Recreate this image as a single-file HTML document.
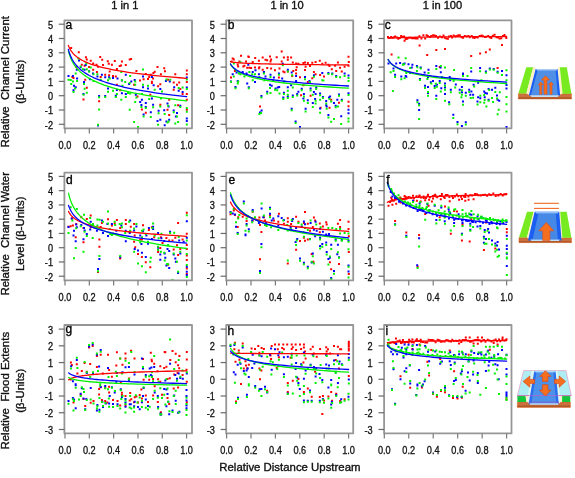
<!DOCTYPE html>
<html><head><meta charset="utf-8"><style>
html,body{margin:0;padding:0;background:#fff;width:575px;height:478px;overflow:hidden}
svg text{font-family:"Liberation Sans",sans-serif}
.tk{font-size:10px;fill:#111;stroke:#111;stroke-width:0.3px}
.lt{font-size:12px;fill:#000;stroke:#000;stroke-width:0.35px}
.lb{fill:#111;stroke:#111;stroke-width:0.35px}
</style></head><body>
<svg width="575" height="478" viewBox="0 0 575 478" style="position:absolute;left:0;top:0;filter:blur(0.35px)">
<rect width="575" height="478" fill="#fff"/>
<text x="111.3" y="9.3" class="lb" font-size="11.1">1 in 1</text>
<text x="270.4" y="9.3" class="lb" font-size="11.1">1 in 10</text>
<text x="422.7" y="9.3" class="lb" font-size="11.1">1 in 100</text>
<path d="M70.2,47.0h2v2h-2zM77.8,51.3h2v2h-2zM84.9,56.2h2v2h-2zM85.8,58.5h2v2h-2zM89.7,59.8h2v2h-2zM99.2,55.9h2v2h-2zM101.2,58.8h2v2h-2zM106.8,60.2h2v2h-2zM113.8,60.1h2v2h-2zM120.9,60.6h2v2h-2zM124.8,64.1h2v2h-2zM92.2,62.4h2v2h-2zM95.5,63.7h2v2h-2zM97.0,65.7h2v2h-2zM102.0,63.9h2v2h-2zM107.8,62.8h2v2h-2zM110.9,63.7h2v2h-2zM120.0,64.4h2v2h-2zM118.7,65.1h2v2h-2zM80.8,63.7h2v2h-2zM83.6,64.8h2v2h-2zM88.1,66.0h2v2h-2zM75.2,66.0h2v2h-2zM92.2,68.7h2v2h-2zM95.9,71.0h2v2h-2zM108.7,70.4h2v2h-2zM104.2,73.7h2v2h-2zM108.1,74.3h2v2h-2zM112.0,75.1h2v2h-2zM114.8,75.4h2v2h-2zM99.7,76.0h2v2h-2zM72.5,77.1h2v2h-2zM71.4,76.0h2v2h-2zM84.2,78.8h2v2h-2zM115.9,68.0h2v2h-2zM85.8,86.7h2v2h-2zM82.5,98.5h2v2h-2zM98.1,100.2h2v2h-2zM115.9,83.7h2v2h-2zM119.2,89.2h2v2h-2zM128.7,58.4h2v2h-2zM130.1,57.9h2v2h-2zM135.4,70.1h2v2h-2zM156.5,66.0h2v2h-2zM163.2,67.3h2v2h-2zM164.0,70.2h2v2h-2zM153.7,70.7h2v2h-2zM152.4,72.1h2v2h-2zM159.9,73.2h2v2h-2zM174.3,73.2h2v2h-2zM185.8,69.5h2v2h-2zM185.8,73.2h2v2h-2zM144.8,72.9h2v2h-2zM148.2,76.0h2v2h-2zM149.8,73.7h2v2h-2zM142.6,78.2h2v2h-2zM139.0,79.5h2v2h-2zM147.0,78.0h2v2h-2zM150.9,80.7h2v2h-2zM152.1,77.6h2v2h-2zM167.1,78.8h2v2h-2zM172.7,81.5h2v2h-2zM178.2,81.5h2v2h-2zM185.8,81.0h2v2h-2zM133.1,83.7h2v2h-2zM150.9,82.0h2v2h-2zM157.1,85.3h2v2h-2zM159.3,83.3h2v2h-2zM172.7,88.7h2v2h-2zM176.0,83.7h2v2h-2zM179.3,88.1h2v2h-2zM181.6,93.1h2v2h-2zM185.8,93.1h2v2h-2zM185.8,98.7h2v2h-2zM136.5,95.4h2v2h-2zM149.3,93.7h2v2h-2zM168.2,98.7h2v2h-2zM159.3,103.7h2v2h-2zM140.9,108.5h2v2h-2zM144.8,111.8h2v2h-2zM166.5,108.7h2v2h-2zM168.2,114.1h2v2h-2zM177.1,104.3h2v2h-2zM185.8,108.7h2v2h-2z" fill="#ff0000"/>
<path d="M78.0,59.5h2v2h-2zM67.5,74.9h2v2h-2zM71.9,74.9h2v2h-2zM79.7,66.2h2v2h-2zM84.7,64.1h2v2h-2zM75.8,68.7h2v2h-2zM83.6,68.7h2v2h-2zM88.1,70.2h2v2h-2zM92.0,72.6h2v2h-2zM96.4,75.4h2v2h-2zM100.9,73.7h2v2h-2zM104.2,76.2h2v2h-2zM108.1,76.2h2v2h-2zM112.0,77.1h2v2h-2zM116.5,77.6h2v2h-2zM120.9,79.5h2v2h-2zM124.8,73.7h2v2h-2zM76.1,77.6h2v2h-2zM88.9,78.2h2v2h-2zM83.0,81.0h2v2h-2zM73.0,84.8h2v2h-2zM74.7,86.2h2v2h-2zM72.5,89.2h2v2h-2zM82.5,92.9h2v2h-2zM98.1,95.1h2v2h-2zM104.2,95.1h2v2h-2zM107.0,87.6h2v2h-2zM114.8,94.8h2v2h-2zM115.9,88.9h2v2h-2zM120.9,92.2h2v2h-2zM124.8,93.1h2v2h-2zM97.0,124.5h2v2h-2zM142.0,75.4h2v2h-2zM150.9,76.0h2v2h-2zM130.3,80.4h2v2h-2zM133.7,79.1h2v2h-2zM164.9,79.9h2v2h-2zM168.8,80.4h2v2h-2zM185.8,76.5h2v2h-2zM128.1,83.1h2v2h-2zM152.6,84.2h2v2h-2zM142.0,86.2h2v2h-2zM147.0,87.6h2v2h-2zM159.3,88.1h2v2h-2zM173.2,86.2h2v2h-2zM177.7,89.8h2v2h-2zM181.6,90.9h2v2h-2zM185.8,86.5h2v2h-2zM134.8,93.7h2v2h-2zM150.9,97.6h2v2h-2zM140.9,98.7h2v2h-2zM139.2,100.9h2v2h-2zM144.8,102.0h2v2h-2zM152.1,103.7h2v2h-2zM166.5,102.6h2v2h-2zM167.6,105.4h2v2h-2zM144.8,105.9h2v2h-2zM140.4,104.0h2v2h-2zM157.6,109.8h2v2h-2zM163.2,109.3h2v2h-2zM149.8,111.2h2v2h-2zM172.7,109.6h2v2h-2zM176.0,112.1h2v2h-2zM142.6,113.4h2v2h-2zM174.9,115.4h2v2h-2zM168.2,118.7h2v2h-2zM165.4,120.4h2v2h-2zM159.3,118.7h2v2h-2zM156.5,119.9h2v2h-2zM163.7,124.3h2v2h-2zM185.8,117.6h2v2h-2zM185.8,119.9h2v2h-2zM179.3,104.8h2v2h-2z" fill="#0000ff"/>
<path d="M77.5,57.6h2v2h-2zM85.3,62.4h2v2h-2zM89.7,66.5h2v2h-2zM74.7,72.4h2v2h-2zM69.7,79.1h2v2h-2zM71.9,80.4h2v2h-2zM67.5,78.8h2v2h-2zM76.1,79.9h2v2h-2zM85.8,68.2h2v2h-2zM88.1,70.4h2v2h-2zM92.5,73.2h2v2h-2zM96.4,73.2h2v2h-2zM99.7,78.8h2v2h-2zM107.0,79.3h2v2h-2zM120.3,71.0h2v2h-2zM120.9,79.3h2v2h-2zM108.7,77.6h2v2h-2zM79.7,65.4h2v2h-2zM81.9,68.2h2v2h-2zM92.5,79.9h2v2h-2zM124.2,81.0h2v2h-2zM70.2,83.1h2v2h-2zM83.0,83.1h2v2h-2zM74.1,87.6h2v2h-2zM72.5,90.9h2v2h-2zM83.6,87.8h2v2h-2zM85.8,91.8h2v2h-2zM82.5,93.7h2v2h-2zM98.1,96.3h2v2h-2zM104.2,95.9h2v2h-2zM98.1,108.5h2v2h-2zM107.0,90.7h2v2h-2zM112.0,89.8h2v2h-2zM114.8,95.9h2v2h-2zM115.9,92.9h2v2h-2zM120.3,98.7h2v2h-2zM124.8,95.9h2v2h-2zM97.0,123.8h2v2h-2zM121.5,84.8h2v2h-2zM142.0,68.4h2v2h-2zM129.2,74.9h2v2h-2zM165.4,78.4h2v2h-2zM169.3,78.8h2v2h-2zM185.8,78.4h2v2h-2zM134.2,80.4h2v2h-2zM128.7,82.0h2v2h-2zM134.2,83.7h2v2h-2zM142.0,83.7h2v2h-2zM147.0,84.8h2v2h-2zM153.7,88.7h2v2h-2zM161.0,90.4h2v2h-2zM177.7,87.0h2v2h-2zM181.6,86.5h2v2h-2zM185.8,88.1h2v2h-2zM127.0,92.0h2v2h-2zM129.2,92.6h2v2h-2zM135.4,96.5h2v2h-2zM140.9,92.9h2v2h-2zM148.2,98.1h2v2h-2zM159.9,97.6h2v2h-2zM134.2,100.9h2v2h-2zM140.4,105.9h2v2h-2zM144.8,107.1h2v2h-2zM152.1,106.3h2v2h-2zM159.3,105.6h2v2h-2zM167.1,104.8h2v2h-2zM174.3,104.3h2v2h-2zM179.3,105.9h2v2h-2zM128.7,108.7h2v2h-2zM157.6,112.3h2v2h-2zM163.7,113.0h2v2h-2zM172.7,111.2h2v2h-2zM142.6,115.4h2v2h-2zM149.8,116.0h2v2h-2zM176.0,115.4h2v2h-2zM166.5,121.5h2v2h-2zM167.6,120.4h2v2h-2zM157.1,123.8h2v2h-2zM133.1,121.0h2v2h-2zM137.0,126.0h2v2h-2zM177.1,121.0h2v2h-2zM185.8,107.1h2v2h-2zM185.8,110.7h2v2h-2zM185.8,123.4h2v2h-2zM174.3,122.6h2v2h-2z" fill="#00f000"/>
<path d="M68.40,45.40 L68.61,45.95 L68.84,46.50 L69.07,47.05 L69.32,47.60 L69.59,48.15 L69.87,48.69 L70.17,49.24 L70.48,49.79 L70.82,50.34 L71.18,50.89 L71.56,51.44 L71.96,51.98 L72.39,52.53 L72.84,53.08 L73.32,53.63 L73.83,54.18 L74.38,54.73 L74.95,55.27 L75.56,55.82 L76.21,56.37 L76.90,56.92 L77.63,57.47 L78.41,58.01 L79.23,58.56 L80.10,59.11 L81.03,59.66 L82.02,60.21 L83.06,60.76 L84.17,61.30 L85.35,61.85 L86.60,62.40 L87.92,62.95 L89.33,63.50 L90.82,64.05 L92.41,64.59 L94.09,65.14 L95.88,65.69 L97.78,66.24 L99.79,66.79 L101.92,67.33 L104.19,67.88 L106.60,68.43 L109.15,68.98 L111.86,69.53 L114.74,70.08 L117.80,70.62 L121.04,71.17 L124.48,71.72 L128.13,72.27 L132.01,72.82 L136.12,73.37 L140.49,73.91 L145.13,74.46 L150.05,75.01 L155.27,75.56 L160.81,76.11 L166.69,76.66 L172.94,77.20 L179.57,77.75 L186.60,78.30" fill="none" stroke="#ff0000" stroke-width="1.3" stroke-linecap="round"/>
<path d="M68.40,50.84 L68.61,51.68 L68.84,52.51 L69.07,53.35 L69.32,54.18 L69.59,55.01 L69.87,55.85 L70.17,56.68 L70.48,57.52 L70.82,58.35 L71.18,59.19 L71.56,60.02 L71.96,60.85 L72.39,61.69 L72.84,62.52 L73.32,63.36 L73.83,64.19 L74.38,65.03 L74.95,65.86 L75.56,66.69 L76.21,67.53 L76.90,68.36 L77.63,69.20 L78.41,70.03 L79.23,70.87 L80.10,71.70 L81.03,72.53 L82.02,73.37 L83.06,74.20 L84.17,75.04 L85.35,75.87 L86.60,76.71 L87.92,77.54 L89.33,78.37 L90.82,79.21 L92.41,80.04 L94.09,80.88 L95.88,81.71 L97.78,82.55 L99.79,83.38 L101.92,84.21 L104.19,85.05 L106.60,85.88 L109.15,86.72 L111.86,87.55 L114.74,88.39 L117.80,89.22 L121.04,90.05 L124.48,90.89 L128.13,91.72 L132.01,92.56 L136.12,93.39 L140.49,94.23 L145.13,95.06 L150.05,95.89 L155.27,96.73 L160.81,97.56 L166.69,98.40 L172.94,99.23 L179.57,100.07 L186.60,100.90" fill="none" stroke="#00f000" stroke-width="1.3" stroke-linecap="round"/>
<path d="M68.40,49.50 L68.61,50.29 L68.84,51.08 L69.07,51.86 L69.32,52.65 L69.59,53.44 L69.87,54.22 L70.17,55.01 L70.48,55.80 L70.82,56.58 L71.18,57.37 L71.56,58.16 L71.96,58.94 L72.39,59.73 L72.84,60.52 L73.32,61.30 L73.83,62.09 L74.38,62.88 L74.95,63.66 L75.56,64.45 L76.21,65.24 L76.90,66.02 L77.63,66.81 L78.41,67.60 L79.23,68.38 L80.10,69.17 L81.03,69.95 L82.02,70.74 L83.06,71.53 L84.17,72.31 L85.35,73.10 L86.60,73.89 L87.92,74.67 L89.33,75.46 L90.82,76.25 L92.41,77.03 L94.09,77.82 L95.88,78.61 L97.78,79.39 L99.79,80.18 L101.92,80.97 L104.19,81.75 L106.60,82.54 L109.15,83.33 L111.86,84.11 L114.74,84.90 L117.80,85.69 L121.04,86.47 L124.48,87.26 L128.13,88.05 L132.01,88.83 L136.12,89.62 L140.49,90.41 L145.13,91.19 L150.05,91.98 L155.27,92.77 L160.81,93.55 L166.69,94.34 L172.94,95.13 L179.57,95.91 L186.60,96.70" fill="none" stroke="#0000ff" stroke-width="1.3" stroke-linecap="round"/>
<path d="M64.4,20.3H192.0V128.3H64.4Z" fill="none" stroke="#969696" stroke-width="1.8" stroke-linejoin="round"/>
<line x1="58.800000000000004" y1="124.30" x2="64.4" y2="124.30" stroke="#6a6a6a" stroke-width="1.2"/>
<text transform="translate(53.00,128.70) scale(0.92,1)" class="tk" text-anchor="end">-2</text>
<line x1="58.800000000000004" y1="110.00" x2="64.4" y2="110.00" stroke="#6a6a6a" stroke-width="1.2"/>
<text transform="translate(53.00,114.40) scale(0.92,1)" class="tk" text-anchor="end">-1</text>
<line x1="58.800000000000004" y1="95.70" x2="64.4" y2="95.70" stroke="#6a6a6a" stroke-width="1.2"/>
<text transform="translate(53.00,100.10) scale(0.92,1)" class="tk" text-anchor="end">0</text>
<line x1="58.800000000000004" y1="81.40" x2="64.4" y2="81.40" stroke="#6a6a6a" stroke-width="1.2"/>
<text transform="translate(53.00,85.80) scale(0.92,1)" class="tk" text-anchor="end">1</text>
<line x1="58.800000000000004" y1="67.10" x2="64.4" y2="67.10" stroke="#6a6a6a" stroke-width="1.2"/>
<text transform="translate(53.00,71.50) scale(0.92,1)" class="tk" text-anchor="end">2</text>
<line x1="58.800000000000004" y1="52.80" x2="64.4" y2="52.80" stroke="#6a6a6a" stroke-width="1.2"/>
<text transform="translate(53.00,57.20) scale(0.92,1)" class="tk" text-anchor="end">3</text>
<line x1="58.800000000000004" y1="38.50" x2="64.4" y2="38.50" stroke="#6a6a6a" stroke-width="1.2"/>
<text transform="translate(53.00,42.90) scale(0.92,1)" class="tk" text-anchor="end">4</text>
<line x1="58.800000000000004" y1="24.20" x2="64.4" y2="24.20" stroke="#6a6a6a" stroke-width="1.2"/>
<text transform="translate(53.00,28.60) scale(0.92,1)" class="tk" text-anchor="end">5</text>
<line x1="65.00" y1="128.3" x2="65.00" y2="133.5" stroke="#7a7a7a" stroke-width="1.2"/>
<text transform="translate(65.00,148.70) scale(0.92,1)" class="tk" text-anchor="middle">0.0</text>
<line x1="89.32" y1="128.3" x2="89.32" y2="133.5" stroke="#7a7a7a" stroke-width="1.2"/>
<text transform="translate(89.32,148.70) scale(0.92,1)" class="tk" text-anchor="middle">0.2</text>
<line x1="113.64" y1="128.3" x2="113.64" y2="133.5" stroke="#7a7a7a" stroke-width="1.2"/>
<text transform="translate(113.64,148.70) scale(0.92,1)" class="tk" text-anchor="middle">0.4</text>
<line x1="137.96" y1="128.3" x2="137.96" y2="133.5" stroke="#7a7a7a" stroke-width="1.2"/>
<text transform="translate(137.96,148.70) scale(0.92,1)" class="tk" text-anchor="middle">0.6</text>
<line x1="162.28" y1="128.3" x2="162.28" y2="133.5" stroke="#7a7a7a" stroke-width="1.2"/>
<text transform="translate(162.28,148.70) scale(0.92,1)" class="tk" text-anchor="middle">0.8</text>
<line x1="186.60" y1="128.3" x2="186.60" y2="133.5" stroke="#7a7a7a" stroke-width="1.2"/>
<text transform="translate(186.60,148.70) scale(0.92,1)" class="tk" text-anchor="middle">1.0</text>
<text x="65.4" y="28.7" class="lt">a</text>
<path d="M231.7,57.6h2v2h-2zM232.8,58.4h2v2h-2zM230.6,60.4h2v2h-2zM240.0,54.8h2v2h-2zM247.8,55.9h2v2h-2zM247.3,55.4h2v2h-2zM254.2,57.0h2v2h-2zM261.7,56.5h2v2h-2zM264.5,58.7h2v2h-2zM266.2,59.3h2v2h-2zM269.0,55.4h2v2h-2zM270.1,58.4h2v2h-2zM269.5,60.4h2v2h-2zM275.7,56.2h2v2h-2zM280.7,50.4h2v2h-2zM282.9,56.5h2v2h-2zM286.8,56.2h2v2h-2zM286.8,58.7h2v2h-2zM280.7,60.4h2v2h-2zM238.4,60.4h2v2h-2zM245.0,60.4h2v2h-2zM251.7,60.9h2v2h-2zM257.9,59.8h2v2h-2zM236.7,63.5h2v2h-2zM237.2,65.4h2v2h-2zM242.3,65.4h2v2h-2zM243.4,64.8h2v2h-2zM246.2,66.8h2v2h-2zM248.4,66.8h2v2h-2zM250.1,67.1h2v2h-2zM254.0,66.5h2v2h-2zM258.4,66.2h2v2h-2zM257.9,67.3h2v2h-2zM261.7,68.7h2v2h-2zM266.2,67.1h2v2h-2zM270.1,67.6h2v2h-2zM274.0,69.3h2v2h-2zM278.5,67.6h2v2h-2zM282.3,70.4h2v2h-2zM286.8,70.4h2v2h-2zM233.9,69.9h2v2h-2zM230.0,76.5h2v2h-2zM262.9,71.0h2v2h-2zM277.9,76.5h2v2h-2zM283.5,71.3h2v2h-2zM259.0,105.6h2v2h-2zM290.1,56.5h2v2h-2zM291.8,61.5h2v2h-2zM295.1,62.4h2v2h-2zM297.4,62.8h2v2h-2zM302.4,62.1h2v2h-2zM304.0,61.5h2v2h-2zM306.8,62.1h2v2h-2zM311.3,61.7h2v2h-2zM314.6,60.9h2v2h-2zM318.8,59.8h2v2h-2zM321.3,62.8h2v2h-2zM324.6,61.7h2v2h-2zM327.4,63.7h2v2h-2zM328.5,65.1h2v2h-2zM334.1,64.8h2v2h-2zM336.9,61.5h2v2h-2zM339.1,66.8h2v2h-2zM343.6,65.7h2v2h-2zM347.5,55.7h2v2h-2zM347.8,60.9h2v2h-2zM347.5,64.8h2v2h-2zM295.7,66.2h2v2h-2zM304.6,65.7h2v2h-2zM309.0,65.1h2v2h-2zM295.1,69.1h2v2h-2zM292.3,69.9h2v2h-2zM304.0,69.1h2v2h-2zM330.8,68.2h2v2h-2zM335.2,69.9h2v2h-2zM340.8,70.4h2v2h-2zM312.9,71.0h2v2h-2zM314.6,73.2h2v2h-2zM319.1,74.0h2v2h-2zM323.0,75.4h2v2h-2zM299.0,76.2h2v2h-2zM311.3,77.3h2v2h-2zM295.1,72.4h2v2h-2zM291.2,74.9h2v2h-2zM306.8,81.0h2v2h-2zM300.1,94.2h2v2h-2zM309.6,94.8h2v2h-2zM319.6,106.7h2v2h-2zM328.5,106.7h2v2h-2zM330.2,98.7h2v2h-2zM338.0,101.8h2v2h-2zM347.5,100.7h2v2h-2zM347.5,105.2h2v2h-2zM302.4,84.2h2v2h-2z" fill="#ff0000"/>
<path d="M247.3,63.7h2v2h-2zM281.8,62.8h2v2h-2zM231.7,73.2h2v2h-2zM235.6,71.5h2v2h-2zM241.7,71.0h2v2h-2zM245.6,72.6h2v2h-2zM251.7,71.0h2v2h-2zM254.5,69.3h2v2h-2zM257.9,73.2h2v2h-2zM262.9,71.0h2v2h-2zM264.5,75.4h2v2h-2zM269.5,73.7h2v2h-2zM277.9,72.6h2v2h-2zM272.9,76.5h2v2h-2zM281.2,77.6h2v2h-2zM286.8,68.7h2v2h-2zM230.0,80.4h2v2h-2zM236.7,79.9h2v2h-2zM254.0,81.0h2v2h-2zM234.5,85.9h2v2h-2zM247.8,86.2h2v2h-2zM246.2,82.6h2v2h-2zM269.0,83.7h2v2h-2zM270.7,84.8h2v2h-2zM274.6,87.6h2v2h-2zM276.8,86.5h2v2h-2zM278.2,85.9h2v2h-2zM286.8,86.2h2v2h-2zM266.2,90.7h2v2h-2zM282.9,91.8h2v2h-2zM260.4,95.1h2v2h-2zM282.3,96.5h2v2h-2zM286.8,95.6h2v2h-2zM260.6,109.6h2v2h-2zM259.0,111.5h2v2h-2zM290.7,71.5h2v2h-2zM295.1,74.9h2v2h-2zM304.0,76.0h2v2h-2zM312.9,74.3h2v2h-2zM321.3,72.1h2v2h-2zM327.4,72.1h2v2h-2zM331.3,72.4h2v2h-2zM335.2,74.9h2v2h-2zM343.6,72.4h2v2h-2zM347.5,74.6h2v2h-2zM295.1,79.9h2v2h-2zM308.5,79.9h2v2h-2zM290.1,84.2h2v2h-2zM300.7,87.8h2v2h-2zM297.4,90.7h2v2h-2zM296.2,93.1h2v2h-2zM291.8,94.5h2v2h-2zM302.9,93.1h2v2h-2zM302.4,97.6h2v2h-2zM309.6,87.6h2v2h-2zM312.9,90.9h2v2h-2zM315.2,86.5h2v2h-2zM314.6,93.1h2v2h-2zM319.1,92.6h2v2h-2zM321.9,95.9h2v2h-2zM314.1,98.1h2v2h-2zM306.8,99.3h2v2h-2zM311.8,102.0h2v2h-2zM325.2,100.0h2v2h-2zM328.0,96.5h2v2h-2zM329.1,95.6h2v2h-2zM336.3,98.7h2v2h-2zM333.0,102.0h2v2h-2zM325.2,104.3h2v2h-2zM325.7,105.4h2v2h-2zM334.7,104.8h2v2h-2zM340.8,98.7h2v2h-2zM338.0,93.4h2v2h-2zM347.5,92.2h2v2h-2zM319.1,107.4h2v2h-2zM290.7,107.8h2v2h-2zM304.6,107.8h2v2h-2zM327.4,114.1h2v2h-2zM340.2,115.2h2v2h-2zM294.6,120.4h2v2h-2zM347.5,108.7h2v2h-2zM347.5,112.3h2v2h-2zM299.0,126.0h2v2h-2z" fill="#0000ff"/>
<path d="M239.5,61.3h2v2h-2zM232.8,62.4h2v2h-2zM281.8,64.3h2v2h-2zM232.8,75.4h2v2h-2zM237.8,72.6h2v2h-2zM239.5,73.2h2v2h-2zM243.4,75.4h2v2h-2zM248.4,71.0h2v2h-2zM251.2,73.2h2v2h-2zM254.0,73.2h2v2h-2zM258.4,76.0h2v2h-2zM262.9,72.6h2v2h-2zM269.5,76.0h2v2h-2zM277.9,73.7h2v2h-2zM263.4,79.3h2v2h-2zM286.8,70.4h2v2h-2zM230.0,80.7h2v2h-2zM237.2,80.4h2v2h-2zM282.9,80.4h2v2h-2zM272.3,79.9h2v2h-2zM251.7,79.3h2v2h-2zM236.7,82.6h2v2h-2zM234.5,87.3h2v2h-2zM247.8,87.3h2v2h-2zM269.0,87.0h2v2h-2zM269.5,92.0h2v2h-2zM266.2,92.6h2v2h-2zM274.0,88.7h2v2h-2zM276.2,89.2h2v2h-2zM278.5,92.6h2v2h-2zM286.8,89.8h2v2h-2zM286.8,93.7h2v2h-2zM282.9,93.1h2v2h-2zM260.4,96.5h2v2h-2zM282.3,98.1h2v2h-2zM286.8,97.0h2v2h-2zM258.4,113.0h2v2h-2zM260.1,112.1h2v2h-2zM291.2,74.3h2v2h-2zM304.0,78.2h2v2h-2zM312.9,75.8h2v2h-2zM327.4,72.9h2v2h-2zM331.1,73.2h2v2h-2zM335.2,76.0h2v2h-2zM339.1,76.2h2v2h-2zM343.6,74.9h2v2h-2zM347.5,77.1h2v2h-2zM347.5,79.9h2v2h-2zM321.3,79.3h2v2h-2zM322.4,79.5h2v2h-2zM309.0,81.0h2v2h-2zM291.8,86.5h2v2h-2zM291.8,95.9h2v2h-2zM296.2,94.5h2v2h-2zM300.7,89.2h2v2h-2zM302.9,95.4h2v2h-2zM302.9,99.8h2v2h-2zM306.8,102.0h2v2h-2zM309.6,89.6h2v2h-2zM311.8,93.7h2v2h-2zM315.2,88.1h2v2h-2zM314.6,99.8h2v2h-2zM314.6,102.6h2v2h-2zM319.1,94.2h2v2h-2zM319.1,98.7h2v2h-2zM321.9,97.0h2v2h-2zM325.2,102.6h2v2h-2zM325.7,107.8h2v2h-2zM328.5,98.1h2v2h-2zM330.2,100.4h2v2h-2zM334.7,106.3h2v2h-2zM336.9,105.4h2v2h-2zM338.0,94.8h2v2h-2zM340.8,99.8h2v2h-2zM347.5,94.0h2v2h-2zM347.5,117.6h2v2h-2zM347.5,120.4h2v2h-2zM327.4,116.5h2v2h-2zM333.0,117.9h2v2h-2zM330.2,120.8h2v2h-2zM340.2,123.0h2v2h-2zM294.6,122.1h2v2h-2zM304.6,110.4h2v2h-2zM290.7,109.3h2v2h-2zM319.1,111.8h2v2h-2zM311.8,105.9h2v2h-2z" fill="#00f000"/>
<path d="M230.50,61.70 L230.73,61.75 L230.98,61.81 L231.24,61.86 L231.51,61.92 L231.80,61.97 L232.11,62.03 L232.43,62.08 L232.78,62.14 L233.14,62.19 L233.53,62.25 L233.94,62.30 L234.37,62.36 L234.83,62.41 L235.32,62.47 L235.83,62.52 L236.38,62.58 L236.95,62.63 L237.56,62.69 L238.21,62.74 L238.90,62.80 L239.62,62.85 L240.39,62.91 L241.21,62.96 L242.07,63.02 L242.98,63.07 L243.95,63.13 L244.97,63.18 L246.06,63.24 L247.21,63.29 L248.42,63.35 L249.71,63.40 L251.08,63.46 L252.52,63.51 L254.05,63.57 L255.67,63.62 L257.39,63.68 L259.21,63.73 L261.13,63.79 L263.17,63.84 L265.33,63.90 L267.62,63.95 L270.04,64.01 L272.61,64.06 L275.32,64.12 L278.20,64.17 L281.25,64.23 L284.47,64.28 L287.89,64.34 L291.51,64.39 L295.34,64.45 L299.40,64.50 L303.70,64.56 L308.25,64.61 L313.07,64.67 L318.18,64.72 L323.58,64.78 L329.31,64.83 L335.38,64.89 L341.80,64.94 L348.60,65.00" fill="none" stroke="#ff0000" stroke-width="1.3" stroke-linecap="round"/>
<path d="M230.50,64.11 L230.73,64.51 L230.98,64.91 L231.24,65.31 L231.51,65.71 L231.80,66.11 L232.11,66.52 L232.43,66.92 L232.78,67.32 L233.14,67.72 L233.53,68.12 L233.94,68.52 L234.37,68.92 L234.83,69.33 L235.32,69.73 L235.83,70.13 L236.38,70.53 L236.95,70.93 L237.56,71.33 L238.21,71.74 L238.90,72.14 L239.62,72.54 L240.39,72.94 L241.21,73.34 L242.07,73.74 L242.98,74.15 L243.95,74.55 L244.97,74.95 L246.06,75.35 L247.21,75.75 L248.42,76.15 L249.71,76.55 L251.08,76.96 L252.52,77.36 L254.05,77.76 L255.67,78.16 L257.39,78.56 L259.21,78.96 L261.13,79.37 L263.17,79.77 L265.33,80.17 L267.62,80.57 L270.04,80.97 L272.61,81.37 L275.32,81.77 L278.20,82.18 L281.25,82.58 L284.47,82.98 L287.89,83.38 L291.51,83.78 L295.34,84.18 L299.40,84.59 L303.70,84.99 L308.25,85.39 L313.07,85.79 L318.18,86.19 L323.58,86.59 L329.31,87.00 L335.38,87.40 L341.80,87.80 L348.60,88.20" fill="none" stroke="#00f000" stroke-width="1.3" stroke-linecap="round"/>
<path d="M230.50,63.97 L230.73,64.34 L230.98,64.71 L231.24,65.07 L231.51,65.44 L231.80,65.81 L232.11,66.17 L232.43,66.54 L232.78,66.91 L233.14,67.28 L233.53,67.64 L233.94,68.01 L234.37,68.38 L234.83,68.74 L235.32,69.11 L235.83,69.48 L236.38,69.85 L236.95,70.21 L237.56,70.58 L238.21,70.95 L238.90,71.31 L239.62,71.68 L240.39,72.05 L241.21,72.42 L242.07,72.78 L242.98,73.15 L243.95,73.52 L244.97,73.88 L246.06,74.25 L247.21,74.62 L248.42,74.99 L249.71,75.35 L251.08,75.72 L252.52,76.09 L254.05,76.45 L255.67,76.82 L257.39,77.19 L259.21,77.56 L261.13,77.92 L263.17,78.29 L265.33,78.66 L267.62,79.02 L270.04,79.39 L272.61,79.76 L275.32,80.13 L278.20,80.49 L281.25,80.86 L284.47,81.23 L287.89,81.59 L291.51,81.96 L295.34,82.33 L299.40,82.70 L303.70,83.06 L308.25,83.43 L313.07,83.80 L318.18,84.16 L323.58,84.53 L329.31,84.90 L335.38,85.27 L341.80,85.63 L348.60,86.00" fill="none" stroke="#0000ff" stroke-width="1.3" stroke-linecap="round"/>
<path d="M226.2,20.3H353.2V128.3H226.2Z" fill="none" stroke="#969696" stroke-width="1.8" stroke-linejoin="round"/>
<line x1="220.6" y1="124.30" x2="226.2" y2="124.30" stroke="#6a6a6a" stroke-width="1.2"/>
<text transform="translate(214.80,128.70) scale(0.92,1)" class="tk" text-anchor="end">-2</text>
<line x1="220.6" y1="110.00" x2="226.2" y2="110.00" stroke="#6a6a6a" stroke-width="1.2"/>
<text transform="translate(214.80,114.40) scale(0.92,1)" class="tk" text-anchor="end">-1</text>
<line x1="220.6" y1="95.70" x2="226.2" y2="95.70" stroke="#6a6a6a" stroke-width="1.2"/>
<text transform="translate(214.80,100.10) scale(0.92,1)" class="tk" text-anchor="end">0</text>
<line x1="220.6" y1="81.40" x2="226.2" y2="81.40" stroke="#6a6a6a" stroke-width="1.2"/>
<text transform="translate(214.80,85.80) scale(0.92,1)" class="tk" text-anchor="end">1</text>
<line x1="220.6" y1="67.10" x2="226.2" y2="67.10" stroke="#6a6a6a" stroke-width="1.2"/>
<text transform="translate(214.80,71.50) scale(0.92,1)" class="tk" text-anchor="end">2</text>
<line x1="220.6" y1="52.80" x2="226.2" y2="52.80" stroke="#6a6a6a" stroke-width="1.2"/>
<text transform="translate(214.80,57.20) scale(0.92,1)" class="tk" text-anchor="end">3</text>
<line x1="220.6" y1="38.50" x2="226.2" y2="38.50" stroke="#6a6a6a" stroke-width="1.2"/>
<text transform="translate(214.80,42.90) scale(0.92,1)" class="tk" text-anchor="end">4</text>
<line x1="220.6" y1="24.20" x2="226.2" y2="24.20" stroke="#6a6a6a" stroke-width="1.2"/>
<text transform="translate(214.80,28.60) scale(0.92,1)" class="tk" text-anchor="end">5</text>
<line x1="226.60" y1="128.3" x2="226.60" y2="133.5" stroke="#7a7a7a" stroke-width="1.2"/>
<text transform="translate(226.60,148.70) scale(0.92,1)" class="tk" text-anchor="middle">0.0</text>
<line x1="251.00" y1="128.3" x2="251.00" y2="133.5" stroke="#7a7a7a" stroke-width="1.2"/>
<text transform="translate(251.00,148.70) scale(0.92,1)" class="tk" text-anchor="middle">0.2</text>
<line x1="275.40" y1="128.3" x2="275.40" y2="133.5" stroke="#7a7a7a" stroke-width="1.2"/>
<text transform="translate(275.40,148.70) scale(0.92,1)" class="tk" text-anchor="middle">0.4</text>
<line x1="299.80" y1="128.3" x2="299.80" y2="133.5" stroke="#7a7a7a" stroke-width="1.2"/>
<text transform="translate(299.80,148.70) scale(0.92,1)" class="tk" text-anchor="middle">0.6</text>
<line x1="324.20" y1="128.3" x2="324.20" y2="133.5" stroke="#7a7a7a" stroke-width="1.2"/>
<text transform="translate(324.20,148.70) scale(0.92,1)" class="tk" text-anchor="middle">0.8</text>
<line x1="348.60" y1="128.3" x2="348.60" y2="133.5" stroke="#7a7a7a" stroke-width="1.2"/>
<text transform="translate(348.60,148.70) scale(0.92,1)" class="tk" text-anchor="middle">1.0</text>
<text x="227.7" y="28.7" class="lt">b</text>
<path d="M418.6,44.6h2v2h-2zM390.6,53.5h2v2h-2zM426.2,53.9h2v2h-2zM435.3,48.9h2v2h-2zM444.0,47.9h2v2h-2zM438.7,66.0h2v2h-2zM403.6,39.8h2v2h-2zM470.2,55.1h2v2h-2zM479.1,52.4h2v2h-2zM484.9,51.3h2v2h-2zM488.8,48.4h2v2h-2zM501.0,43.9h2v2h-2zM496.6,67.1h2v2h-2zM387.0,36.1h2v2h-2zM388.3,37.1h2v2h-2zM390.1,36.1h2v2h-2zM391.6,36.7h2v2h-2zM393.0,36.3h2v2h-2zM394.2,35.4h2v2h-2zM396.2,36.5h2v2h-2zM397.3,37.8h2v2h-2zM398.8,37.0h2v2h-2zM400.1,35.1h2v2h-2zM401.6,35.8h2v2h-2zM403.1,35.6h2v2h-2zM404.7,37.9h2v2h-2zM406.3,37.7h2v2h-2zM408.0,36.8h2v2h-2zM409.6,36.8h2v2h-2zM411.3,37.3h2v2h-2zM413.2,37.3h2v2h-2zM415.1,37.5h2v2h-2zM416.6,37.6h2v2h-2zM418.4,35.2h2v2h-2zM420.4,37.6h2v2h-2zM422.4,34.3h2v2h-2zM424.2,37.4h2v2h-2zM425.6,34.2h2v2h-2zM426.8,34.9h2v2h-2zM428.9,35.9h2v2h-2zM430.2,34.9h2v2h-2zM432.2,34.2h2v2h-2zM433.6,34.6h2v2h-2zM435.0,35.0h2v2h-2zM437.0,36.8h2v2h-2zM438.9,35.4h2v2h-2zM441.0,36.2h2v2h-2zM442.5,34.5h2v2h-2zM443.7,36.8h2v2h-2zM445.4,37.6h2v2h-2zM446.9,37.7h2v2h-2zM448.1,35.5h2v2h-2zM449.9,35.1h2v2h-2zM451.1,36.5h2v2h-2zM452.6,34.5h2v2h-2zM454.5,35.2h2v2h-2zM456.3,35.1h2v2h-2zM457.4,34.2h2v2h-2zM458.8,34.3h2v2h-2zM460.6,36.3h2v2h-2zM462.1,36.7h2v2h-2zM463.8,35.1h2v2h-2zM465.6,35.6h2v2h-2zM467.5,34.9h2v2h-2zM468.8,36.2h2v2h-2zM470.7,34.9h2v2h-2zM471.9,36.4h2v2h-2zM473.6,36.9h2v2h-2zM474.9,36.0h2v2h-2zM476.7,36.5h2v2h-2zM478.7,34.9h2v2h-2zM480.7,34.6h2v2h-2zM482.1,35.2h2v2h-2zM484.1,36.0h2v2h-2zM485.3,35.7h2v2h-2zM487.2,34.9h2v2h-2zM488.7,36.2h2v2h-2zM490.3,36.9h2v2h-2zM491.8,34.8h2v2h-2zM493.6,33.7h2v2h-2zM495.5,36.3h2v2h-2zM497.2,36.4h2v2h-2zM498.6,37.4h2v2h-2zM500.3,37.2h2v2h-2zM502.0,35.1h2v2h-2zM503.5,33.9h2v2h-2zM505.3,36.9h2v2h-2z" fill="#ff0000"/>
<path d="M387.5,62.4h2v2h-2zM395.2,62.4h2v2h-2zM399.1,62.1h2v2h-2zM402.5,62.9h2v2h-2zM403.6,62.4h2v2h-2zM407.5,63.2h2v2h-2zM411.4,63.7h2v2h-2zM415.9,65.1h2v2h-2zM419.7,66.5h2v2h-2zM410.8,66.5h2v2h-2zM427.5,68.8h2v2h-2zM435.3,64.9h2v2h-2zM439.6,66.5h2v2h-2zM439.8,71.3h2v2h-2zM392.5,67.6h2v2h-2zM394.1,73.8h2v2h-2zM400.3,75.4h2v2h-2zM404.7,74.9h2v2h-2zM405.3,75.8h2v2h-2zM409.2,72.1h2v2h-2zM423.6,71.5h2v2h-2zM427.0,76.0h2v2h-2zM418.9,77.9h2v2h-2zM429.8,81.2h2v2h-2zM432.0,80.1h2v2h-2zM424.0,84.8h2v2h-2zM427.0,85.9h2v2h-2zM433.7,85.0h2v2h-2zM435.9,83.7h2v2h-2zM438.7,80.1h2v2h-2zM440.3,87.2h2v2h-2zM444.0,82.6h2v2h-2zM444.0,86.5h2v2h-2zM444.0,93.1h2v2h-2zM427.0,92.0h2v2h-2zM435.3,94.8h2v2h-2zM416.4,99.3h2v2h-2zM418.1,102.8h2v2h-2zM418.1,109.1h2v2h-2zM448.7,76.0h2v2h-2zM462.0,72.4h2v2h-2zM462.0,73.5h2v2h-2zM470.2,70.4h2v2h-2zM479.1,66.9h2v2h-2zM484.9,70.4h2v2h-2zM488.8,67.6h2v2h-2zM492.7,68.0h2v2h-2zM496.6,70.7h2v2h-2zM501.0,69.9h2v2h-2zM505.5,74.3h2v2h-2zM449.2,79.2h2v2h-2zM454.8,83.5h2v2h-2zM449.8,88.7h2v2h-2zM458.7,88.7h2v2h-2zM460.9,85.9h2v2h-2zM460.9,91.3h2v2h-2zM464.8,91.7h2v2h-2zM468.2,88.7h2v2h-2zM470.4,90.4h2v2h-2zM469.3,93.7h2v2h-2zM472.1,93.7h2v2h-2zM472.6,83.7h2v2h-2zM477.1,81.7h2v2h-2zM477.1,96.2h2v2h-2zM479.3,97.3h2v2h-2zM483.2,90.6h2v2h-2zM484.3,92.0h2v2h-2zM486.0,92.6h2v2h-2zM487.6,87.9h2v2h-2zM491.0,88.7h2v2h-2zM494.3,86.8h2v2h-2zM496.0,94.6h2v2h-2zM496.6,98.7h2v2h-2zM498.2,99.8h2v2h-2zM483.7,96.2h2v2h-2zM487.6,98.7h2v2h-2zM476.5,100.4h2v2h-2zM462.0,100.4h2v2h-2zM448.1,101.3h2v2h-2zM505.5,83.9h2v2h-2zM505.5,87.6h2v2h-2zM452.3,113.7h2v2h-2zM456.5,121.0h2v2h-2zM464.8,121.3h2v2h-2zM460.9,125.1h2v2h-2zM505.5,126.0h2v2h-2z" fill="#0000ff"/>
<path d="M397.5,56.5h2v2h-2zM404.7,57.3h2v2h-2zM389.7,71.3h2v2h-2zM392.5,69.9h2v2h-2zM401.9,63.7h2v2h-2zM403.0,63.2h2v2h-2zM409.2,67.1h2v2h-2zM416.4,66.2h2v2h-2zM419.7,67.6h2v2h-2zM415.9,69.9h2v2h-2zM435.3,68.0h2v2h-2zM439.8,64.9h2v2h-2zM444.0,66.5h2v2h-2zM427.5,72.1h2v2h-2zM394.1,76.0h2v2h-2zM405.3,72.1h2v2h-2zM440.9,76.0h2v2h-2zM400.3,78.3h2v2h-2zM403.6,77.2h2v2h-2zM418.9,79.0h2v2h-2zM426.4,77.9h2v2h-2zM430.3,82.6h2v2h-2zM434.8,82.8h2v2h-2zM435.9,85.7h2v2h-2zM438.7,82.0h2v2h-2zM424.0,87.0h2v2h-2zM433.7,87.0h2v2h-2zM439.8,90.4h2v2h-2zM444.0,84.8h2v2h-2zM444.0,88.7h2v2h-2zM427.0,90.9h2v2h-2zM427.0,94.8h2v2h-2zM435.3,97.9h2v2h-2zM444.0,99.8h2v2h-2zM416.4,101.3h2v2h-2zM418.1,104.3h2v2h-2zM418.1,118.0h2v2h-2zM391.9,90.1h2v2h-2zM453.1,69.1h2v2h-2zM462.0,74.9h2v2h-2zM466.5,75.1h2v2h-2zM470.2,66.9h2v2h-2zM479.1,70.2h2v2h-2zM484.9,71.8h2v2h-2zM488.8,68.4h2v2h-2zM492.7,68.8h2v2h-2zM496.6,71.8h2v2h-2zM501.0,74.0h2v2h-2zM505.5,69.3h2v2h-2zM449.2,77.6h2v2h-2zM452.6,80.1h2v2h-2zM454.2,86.5h2v2h-2zM449.8,91.3h2v2h-2zM458.7,91.7h2v2h-2zM460.9,89.2h2v2h-2zM460.9,93.7h2v2h-2zM460.4,96.2h2v2h-2zM464.8,94.8h2v2h-2zM468.2,90.9h2v2h-2zM469.8,97.0h2v2h-2zM472.1,96.8h2v2h-2zM473.2,85.4h2v2h-2zM476.5,103.5h2v2h-2zM479.3,94.8h2v2h-2zM479.3,101.3h2v2h-2zM483.2,93.9h2v2h-2zM483.2,101.7h2v2h-2zM483.7,99.0h2v2h-2zM485.4,105.4h2v2h-2zM488.2,89.0h2v2h-2zM487.6,99.8h2v2h-2zM491.0,97.0h2v2h-2zM492.1,100.9h2v2h-2zM494.3,90.9h2v2h-2zM496.0,97.6h2v2h-2zM498.8,91.3h2v2h-2zM505.5,79.2h2v2h-2zM505.5,95.9h2v2h-2zM505.5,103.2h2v2h-2zM505.5,110.6h2v2h-2zM462.0,103.7h2v2h-2zM448.3,103.2h2v2h-2zM497.7,108.7h2v2h-2zM496.6,113.2h2v2h-2zM452.3,117.1h2v2h-2zM456.5,123.2h2v2h-2zM464.8,123.5h2v2h-2zM480.4,79.2h2v2h-2z" fill="#00f000"/>
<path d="M388.09,38.41 L388.32,38.38 L388.56,38.35 L388.81,38.32 L389.08,38.28 L389.36,38.25 L389.67,38.22 L389.99,38.19 L390.32,38.16 L390.68,38.12 L391.06,38.09 L391.47,38.06 L391.89,38.03 L392.35,38.00 L392.83,37.96 L393.34,37.93 L393.87,37.90 L394.44,37.87 L395.05,37.84 L395.69,37.81 L396.37,37.77 L397.09,37.74 L397.85,37.71 L398.66,37.68 L399.51,37.65 L400.42,37.61 L401.38,37.58 L402.40,37.55 L403.48,37.52 L404.62,37.49 L405.83,37.46 L407.12,37.42 L408.48,37.39 L409.92,37.36 L411.44,37.33 L413.06,37.30 L414.78,37.26 L416.59,37.23 L418.52,37.20 L420.56,37.17 L422.72,37.14 L425.01,37.11 L427.44,37.07 L430.01,37.04 L432.73,37.01 L435.62,36.98 L438.68,36.95 L441.92,36.91 L445.35,36.88 L448.99,36.85 L452.85,36.82 L456.93,36.79 L461.26,36.75 L465.85,36.72 L470.71,36.69 L475.86,36.66 L481.32,36.63 L487.10,36.60 L493.23,36.56 L499.72,36.53 L506.60,36.50" fill="none" stroke="#ff0000" stroke-width="1.3" stroke-linecap="round"/>
<path d="M388.09,59.53 L388.32,59.93 L388.56,60.33 L388.81,60.73 L389.08,61.13 L389.36,61.53 L389.67,61.93 L389.99,62.33 L390.32,62.73 L390.68,63.13 L391.06,63.53 L391.47,63.93 L391.89,64.32 L392.35,64.72 L392.83,65.12 L393.34,65.52 L393.87,65.92 L394.44,66.32 L395.05,66.72 L395.69,67.12 L396.37,67.52 L397.09,67.92 L397.85,68.32 L398.66,68.72 L399.51,69.12 L400.42,69.52 L401.38,69.92 L402.40,70.32 L403.48,70.72 L404.62,71.12 L405.83,71.52 L407.12,71.91 L408.48,72.31 L409.92,72.71 L411.44,73.11 L413.06,73.51 L414.78,73.91 L416.59,74.31 L418.52,74.71 L420.56,75.11 L422.72,75.51 L425.01,75.91 L427.44,76.31 L430.01,76.71 L432.73,77.11 L435.62,77.51 L438.68,77.91 L441.92,78.31 L445.35,78.71 L448.99,79.11 L452.85,79.51 L456.93,79.90 L461.26,80.30 L465.85,80.70 L470.71,81.10 L475.86,81.50 L481.32,81.90 L487.10,82.30 L493.23,82.70 L499.72,83.10 L506.60,83.50" fill="none" stroke="#00f000" stroke-width="1.3" stroke-linecap="round"/>
<path d="M388.09,59.52 L388.32,59.90 L388.56,60.27 L388.81,60.65 L389.08,61.03 L389.36,61.40 L389.67,61.78 L389.99,62.15 L390.32,62.53 L390.68,62.91 L391.06,63.28 L391.47,63.66 L391.89,64.04 L392.35,64.41 L392.83,64.79 L393.34,65.17 L393.87,65.54 L394.44,65.92 L395.05,66.29 L395.69,66.67 L396.37,67.05 L397.09,67.42 L397.85,67.80 L398.66,68.18 L399.51,68.55 L400.42,68.93 L401.38,69.30 L402.40,69.68 L403.48,70.06 L404.62,70.43 L405.83,70.81 L407.12,71.19 L408.48,71.56 L409.92,71.94 L411.44,72.32 L413.06,72.69 L414.78,73.07 L416.59,73.44 L418.52,73.82 L420.56,74.20 L422.72,74.57 L425.01,74.95 L427.44,75.33 L430.01,75.70 L432.73,76.08 L435.62,76.46 L438.68,76.83 L441.92,77.21 L445.35,77.58 L448.99,77.96 L452.85,78.34 L456.93,78.71 L461.26,79.09 L465.85,79.47 L470.71,79.84 L475.86,80.22 L481.32,80.59 L487.10,80.97 L493.23,81.35 L499.72,81.72 L506.60,82.10" fill="none" stroke="#0000ff" stroke-width="1.3" stroke-linecap="round"/>
<path d="M384.1,20.3H511.5V128.3H384.1Z" fill="none" stroke="#969696" stroke-width="1.8" stroke-linejoin="round"/>
<line x1="378.5" y1="124.30" x2="384.1" y2="124.30" stroke="#6a6a6a" stroke-width="1.2"/>
<text transform="translate(372.70,128.70) scale(0.92,1)" class="tk" text-anchor="end">-2</text>
<line x1="378.5" y1="110.00" x2="384.1" y2="110.00" stroke="#6a6a6a" stroke-width="1.2"/>
<text transform="translate(372.70,114.40) scale(0.92,1)" class="tk" text-anchor="end">-1</text>
<line x1="378.5" y1="95.70" x2="384.1" y2="95.70" stroke="#6a6a6a" stroke-width="1.2"/>
<text transform="translate(372.70,100.10) scale(0.92,1)" class="tk" text-anchor="end">0</text>
<line x1="378.5" y1="81.40" x2="384.1" y2="81.40" stroke="#6a6a6a" stroke-width="1.2"/>
<text transform="translate(372.70,85.80) scale(0.92,1)" class="tk" text-anchor="end">1</text>
<line x1="378.5" y1="67.10" x2="384.1" y2="67.10" stroke="#6a6a6a" stroke-width="1.2"/>
<text transform="translate(372.70,71.50) scale(0.92,1)" class="tk" text-anchor="end">2</text>
<line x1="378.5" y1="52.80" x2="384.1" y2="52.80" stroke="#6a6a6a" stroke-width="1.2"/>
<text transform="translate(372.70,57.20) scale(0.92,1)" class="tk" text-anchor="end">3</text>
<line x1="378.5" y1="38.50" x2="384.1" y2="38.50" stroke="#6a6a6a" stroke-width="1.2"/>
<text transform="translate(372.70,42.90) scale(0.92,1)" class="tk" text-anchor="end">4</text>
<line x1="378.5" y1="24.20" x2="384.1" y2="24.20" stroke="#6a6a6a" stroke-width="1.2"/>
<text transform="translate(372.70,28.60) scale(0.92,1)" class="tk" text-anchor="end">5</text>
<line x1="384.30" y1="128.3" x2="384.30" y2="133.5" stroke="#7a7a7a" stroke-width="1.2"/>
<text transform="translate(384.30,148.70) scale(0.92,1)" class="tk" text-anchor="middle">0.0</text>
<line x1="408.76" y1="128.3" x2="408.76" y2="133.5" stroke="#7a7a7a" stroke-width="1.2"/>
<text transform="translate(408.76,148.70) scale(0.92,1)" class="tk" text-anchor="middle">0.2</text>
<line x1="433.22" y1="128.3" x2="433.22" y2="133.5" stroke="#7a7a7a" stroke-width="1.2"/>
<text transform="translate(433.22,148.70) scale(0.92,1)" class="tk" text-anchor="middle">0.4</text>
<line x1="457.68" y1="128.3" x2="457.68" y2="133.5" stroke="#7a7a7a" stroke-width="1.2"/>
<text transform="translate(457.68,148.70) scale(0.92,1)" class="tk" text-anchor="middle">0.6</text>
<line x1="482.14" y1="128.3" x2="482.14" y2="133.5" stroke="#7a7a7a" stroke-width="1.2"/>
<text transform="translate(482.14,148.70) scale(0.92,1)" class="tk" text-anchor="middle">0.8</text>
<line x1="506.60" y1="128.3" x2="506.60" y2="133.5" stroke="#7a7a7a" stroke-width="1.2"/>
<text transform="translate(506.60,148.70) scale(0.92,1)" class="tk" text-anchor="middle">1.0</text>
<text x="384.8" y="29.0" class="lt">c</text>
<path d="M67.5,225.8h2v2h-2zM69.7,225.2h2v2h-2zM71.9,224.6h2v2h-2zM75.2,223.0h2v2h-2zM80.3,216.3h2v2h-2zM89.7,214.6h2v2h-2zM85.8,218.0h2v2h-2zM89.7,226.3h2v2h-2zM107.0,218.3h2v2h-2zM115.9,219.1h2v2h-2zM124.8,219.1h2v2h-2zM124.8,223.0h2v2h-2zM110.9,224.6h2v2h-2zM100.9,221.9h2v2h-2zM82.5,226.9h2v2h-2zM70.8,217.4h2v2h-2zM93.6,226.3h2v2h-2zM99.7,226.1h2v2h-2zM119.2,226.9h2v2h-2zM113.7,222.4h2v2h-2zM74.7,236.2h2v2h-2zM82.5,241.2h2v2h-2zM98.4,238.5h2v2h-2zM98.4,245.7h2v2h-2zM119.2,257.6h2v2h-2zM97.0,271.0h2v2h-2zM133.1,223.0h2v2h-2zM142.0,224.3h2v2h-2zM147.9,229.1h2v2h-2zM150.9,226.3h2v2h-2zM177.1,222.1h2v2h-2zM185.8,211.8h2v2h-2zM185.8,232.8h2v2h-2zM129.8,225.8h2v2h-2zM128.7,230.8h2v2h-2zM133.1,240.7h2v2h-2zM134.2,246.2h2v2h-2zM137.0,252.9h2v2h-2zM140.9,256.0h2v2h-2zM144.8,261.3h2v2h-2zM149.3,266.3h2v2h-2zM157.1,250.9h2v2h-2zM159.3,247.1h2v2h-2zM153.2,236.2h2v2h-2zM159.9,236.2h2v2h-2zM165.4,237.1h2v2h-2zM172.7,248.5h2v2h-2zM177.1,254.0h2v2h-2zM179.3,247.9h2v2h-2zM176.0,244.2h2v2h-2zM181.6,238.5h2v2h-2zM185.8,244.0h2v2h-2zM185.8,247.9h2v2h-2zM185.8,254.6h2v2h-2zM185.8,259.1h2v2h-2zM167.1,263.8h2v2h-2zM139.2,238.5h2v2h-2zM140.9,238.5h2v2h-2zM161.5,242.0h2v2h-2zM168.2,239.6h2v2h-2zM171.5,239.6h2v2h-2zM174.3,236.8h2v2h-2zM185.8,267.4h2v2h-2zM185.8,273.0h2v2h-2zM133.7,234.6h2v2h-2z" fill="#ff0000"/>
<path d="M67.5,226.1h2v2h-2zM70.8,217.4h2v2h-2zM75.2,223.5h2v2h-2zM75.8,226.3h2v2h-2zM80.3,224.1h2v2h-2zM83.0,226.9h2v2h-2zM83.6,229.4h2v2h-2zM89.2,228.5h2v2h-2zM85.8,233.0h2v2h-2zM89.7,220.7h2v2h-2zM95.9,229.7h2v2h-2zM100.9,219.6h2v2h-2zM102.0,231.9h2v2h-2zM106.4,223.0h2v2h-2zM110.9,223.0h2v2h-2zM115.3,229.7h2v2h-2zM120.3,224.6h2v2h-2zM124.8,229.7h2v2h-2zM73.0,229.7h2v2h-2zM91.4,224.6h2v2h-2zM72.5,234.6h2v2h-2zM74.7,240.3h2v2h-2zM82.5,238.2h2v2h-2zM98.4,257.9h2v2h-2zM97.0,268.0h2v2h-2zM119.2,256.3h2v2h-2zM107.0,235.1h2v2h-2zM124.8,240.3h2v2h-2zM129.2,219.6h2v2h-2zM135.4,225.4h2v2h-2zM133.1,229.4h2v2h-2zM147.9,226.9h2v2h-2zM152.1,225.8h2v2h-2zM152.1,228.0h2v2h-2zM157.1,231.9h2v2h-2zM169.1,230.8h2v2h-2zM185.8,220.2h2v2h-2zM142.0,230.2h2v2h-2zM128.7,231.9h2v2h-2zM133.7,247.9h2v2h-2zM137.0,249.4h2v2h-2zM140.9,251.8h2v2h-2zM144.8,256.0h2v2h-2zM140.4,242.9h2v2h-2zM147.0,242.7h2v2h-2zM157.1,246.8h2v2h-2zM159.3,253.5h2v2h-2zM159.3,258.7h2v2h-2zM163.7,252.4h2v2h-2zM164.3,256.8h2v2h-2zM166.5,247.9h2v2h-2zM168.2,250.1h2v2h-2zM172.7,253.5h2v2h-2zM174.3,257.4h2v2h-2zM174.9,260.7h2v2h-2zM179.3,252.4h2v2h-2zM165.4,264.6h2v2h-2zM168.2,266.9h2v2h-2zM177.1,271.9h2v2h-2zM185.8,236.8h2v2h-2zM185.8,265.7h2v2h-2zM185.8,270.7h2v2h-2zM185.8,274.1h2v2h-2zM139.2,234.6h2v2h-2zM145.4,234.6h2v2h-2zM150.9,237.9h2v2h-2zM160.4,237.3h2v2h-2zM163.2,240.1h2v2h-2zM178.2,239.6h2v2h-2zM182.7,240.7h2v2h-2z" fill="#0000ff"/>
<path d="M67.5,231.9h2v2h-2zM69.7,206.3h2v2h-2zM75.8,207.9h2v2h-2zM83.0,213.8h2v2h-2zM89.2,216.9h2v2h-2zM107.0,210.5h2v2h-2zM96.4,218.5h2v2h-2zM98.6,218.7h2v2h-2zM102.0,220.7h2v2h-2zM107.0,222.4h2v2h-2zM113.7,220.7h2v2h-2zM118.7,223.0h2v2h-2zM120.9,222.4h2v2h-2zM114.2,224.1h2v2h-2zM71.4,219.6h2v2h-2zM75.2,227.2h2v2h-2zM79.7,225.2h2v2h-2zM83.6,230.8h2v2h-2zM92.0,223.0h2v2h-2zM96.4,224.6h2v2h-2zM108.7,228.0h2v2h-2zM120.9,226.3h2v2h-2zM124.2,231.9h2v2h-2zM112.0,232.4h2v2h-2zM115.3,233.0h2v2h-2zM109.2,233.0h2v2h-2zM85.8,235.1h2v2h-2zM91.7,237.1h2v2h-2zM74.7,247.1h2v2h-2zM82.5,250.7h2v2h-2zM73.0,257.2h2v2h-2zM98.4,254.9h2v2h-2zM97.0,270.2h2v2h-2zM119.2,254.9h2v2h-2zM110.9,234.0h2v2h-2zM128.1,220.7h2v2h-2zM135.4,223.0h2v2h-2zM133.1,227.4h2v2h-2zM140.9,229.7h2v2h-2zM142.6,228.5h2v2h-2zM152.1,222.4h2v2h-2zM151.5,226.9h2v2h-2zM144.8,233.0h2v2h-2zM169.1,232.1h2v2h-2zM173.2,231.7h2v2h-2zM185.8,214.3h2v2h-2zM129.2,229.7h2v2h-2zM160.4,232.8h2v2h-2zM133.1,250.7h2v2h-2zM137.0,262.4h2v2h-2zM140.9,265.2h2v2h-2zM144.8,271.3h2v2h-2zM149.3,260.7h2v2h-2zM149.8,256.8h2v2h-2zM157.1,245.7h2v2h-2zM157.1,249.0h2v2h-2zM159.9,250.7h2v2h-2zM163.2,251.8h2v2h-2zM163.7,259.4h2v2h-2zM166.0,263.0h2v2h-2zM167.1,263.2h2v2h-2zM172.7,252.4h2v2h-2zM176.0,260.7h2v2h-2zM177.1,270.7h2v2h-2zM179.3,250.7h2v2h-2zM185.8,252.9h2v2h-2zM185.8,264.1h2v2h-2zM185.8,276.1h2v2h-2zM171.5,279.1h2v2h-2zM139.2,241.2h2v2h-2zM147.0,240.7h2v2h-2zM153.7,234.6h2v2h-2zM157.6,237.3h2v2h-2zM167.1,244.0h2v2h-2zM177.7,236.0h2v2h-2zM185.8,239.6h2v2h-2zM140.9,236.2h2v2h-2z" fill="#00f000"/>
<path d="M68.53,211.52 L68.74,211.93 L68.97,212.34 L69.21,212.76 L69.47,213.17 L69.74,213.58 L70.02,214.00 L70.33,214.41 L70.65,214.82 L71.00,215.23 L71.36,215.65 L71.75,216.06 L72.16,216.47 L72.59,216.89 L73.06,217.30 L73.55,217.71 L74.06,218.13 L74.62,218.54 L75.20,218.95 L75.82,219.36 L76.48,219.78 L77.18,220.19 L77.92,220.60 L78.70,221.02 L79.53,221.43 L80.42,221.84 L81.35,222.26 L82.35,222.67 L83.40,223.08 L84.52,223.50 L85.71,223.91 L86.97,224.32 L88.30,224.73 L89.72,225.15 L91.22,225.56 L92.81,225.97 L94.50,226.39 L96.30,226.80 L98.20,227.21 L100.22,227.63 L102.36,228.04 L104.63,228.45 L107.04,228.87 L109.59,229.28 L112.30,229.69 L115.18,230.10 L118.23,230.52 L121.47,230.93 L124.90,231.34 L128.54,231.76 L132.40,232.17 L136.50,232.58 L140.84,233.00 L145.45,233.41 L150.34,233.82 L155.53,234.23 L161.03,234.65 L166.87,235.06 L173.06,235.47 L179.63,235.89 L186.60,236.30" fill="none" stroke="#ff0000" stroke-width="1.3" stroke-linecap="round"/>
<path d="M68.53,193.27 L68.74,194.19 L68.97,195.11 L69.21,196.03 L69.47,196.95 L69.74,197.87 L70.02,198.79 L70.33,199.71 L70.65,200.63 L71.00,201.55 L71.36,202.47 L71.75,203.39 L72.16,204.32 L72.59,205.24 L73.06,206.16 L73.55,207.08 L74.06,208.00 L74.62,208.92 L75.20,209.84 L75.82,210.76 L76.48,211.68 L77.18,212.60 L77.92,213.52 L78.70,214.44 L79.53,215.36 L80.42,216.28 L81.35,217.20 L82.35,218.12 L83.40,219.04 L84.52,219.96 L85.71,220.88 L86.97,221.80 L88.30,222.73 L89.72,223.65 L91.22,224.57 L92.81,225.49 L94.50,226.41 L96.30,227.33 L98.20,228.25 L100.22,229.17 L102.36,230.09 L104.63,231.01 L107.04,231.93 L109.59,232.85 L112.30,233.77 L115.18,234.69 L118.23,235.61 L121.47,236.53 L124.90,237.45 L128.54,238.37 L132.40,239.29 L136.50,240.22 L140.84,241.14 L145.45,242.06 L150.34,242.98 L155.53,243.90 L161.03,244.82 L166.87,245.74 L173.06,246.66 L179.63,247.58 L186.60,248.50" fill="none" stroke="#00f000" stroke-width="1.3" stroke-linecap="round"/>
<path d="M68.53,205.32 L68.74,205.95 L68.97,206.58 L69.21,207.21 L69.47,207.84 L69.74,208.47 L70.02,209.11 L70.33,209.74 L70.65,210.37 L71.00,211.00 L71.36,211.63 L71.75,212.26 L72.16,212.89 L72.59,213.53 L73.06,214.16 L73.55,214.79 L74.06,215.42 L74.62,216.05 L75.20,216.68 L75.82,217.31 L76.48,217.94 L77.18,218.58 L77.92,219.21 L78.70,219.84 L79.53,220.47 L80.42,221.10 L81.35,221.73 L82.35,222.36 L83.40,223.00 L84.52,223.63 L85.71,224.26 L86.97,224.89 L88.30,225.52 L89.72,226.15 L91.22,226.78 L92.81,227.42 L94.50,228.05 L96.30,228.68 L98.20,229.31 L100.22,229.94 L102.36,230.57 L104.63,231.20 L107.04,231.84 L109.59,232.47 L112.30,233.10 L115.18,233.73 L118.23,234.36 L121.47,234.99 L124.90,235.62 L128.54,236.25 L132.40,236.89 L136.50,237.52 L140.84,238.15 L145.45,238.78 L150.34,239.41 L155.53,240.04 L161.03,240.67 L166.87,241.31 L173.06,241.94 L179.63,242.57 L186.60,243.20" fill="none" stroke="#0000ff" stroke-width="1.3" stroke-linecap="round"/>
<path d="M64.4,172.6H192.0V280.4H64.4Z" fill="none" stroke="#969696" stroke-width="1.8" stroke-linejoin="round"/>
<line x1="58.800000000000004" y1="276.22" x2="64.4" y2="276.22" stroke="#6a6a6a" stroke-width="1.2"/>
<text transform="translate(53.00,280.62) scale(0.92,1)" class="tk" text-anchor="end">-2</text>
<line x1="58.800000000000004" y1="261.96" x2="64.4" y2="261.96" stroke="#6a6a6a" stroke-width="1.2"/>
<text transform="translate(53.00,266.36) scale(0.92,1)" class="tk" text-anchor="end">-1</text>
<line x1="58.800000000000004" y1="247.70" x2="64.4" y2="247.70" stroke="#6a6a6a" stroke-width="1.2"/>
<text transform="translate(53.00,252.10) scale(0.92,1)" class="tk" text-anchor="end">0</text>
<line x1="58.800000000000004" y1="233.44" x2="64.4" y2="233.44" stroke="#6a6a6a" stroke-width="1.2"/>
<text transform="translate(53.00,237.84) scale(0.92,1)" class="tk" text-anchor="end">1</text>
<line x1="58.800000000000004" y1="219.18" x2="64.4" y2="219.18" stroke="#6a6a6a" stroke-width="1.2"/>
<text transform="translate(53.00,223.58) scale(0.92,1)" class="tk" text-anchor="end">2</text>
<line x1="58.800000000000004" y1="204.92" x2="64.4" y2="204.92" stroke="#6a6a6a" stroke-width="1.2"/>
<text transform="translate(53.00,209.32) scale(0.92,1)" class="tk" text-anchor="end">3</text>
<line x1="58.800000000000004" y1="190.66" x2="64.4" y2="190.66" stroke="#6a6a6a" stroke-width="1.2"/>
<text transform="translate(53.00,195.06) scale(0.92,1)" class="tk" text-anchor="end">4</text>
<line x1="58.800000000000004" y1="176.40" x2="64.4" y2="176.40" stroke="#6a6a6a" stroke-width="1.2"/>
<text transform="translate(53.00,180.80) scale(0.92,1)" class="tk" text-anchor="end">5</text>
<line x1="65.00" y1="280.4" x2="65.00" y2="285.59999999999997" stroke="#7a7a7a" stroke-width="1.2"/>
<text transform="translate(65.00,300.80) scale(0.92,1)" class="tk" text-anchor="middle">0.0</text>
<line x1="89.32" y1="280.4" x2="89.32" y2="285.59999999999997" stroke="#7a7a7a" stroke-width="1.2"/>
<text transform="translate(89.32,300.80) scale(0.92,1)" class="tk" text-anchor="middle">0.2</text>
<line x1="113.64" y1="280.4" x2="113.64" y2="285.59999999999997" stroke="#7a7a7a" stroke-width="1.2"/>
<text transform="translate(113.64,300.80) scale(0.92,1)" class="tk" text-anchor="middle">0.4</text>
<line x1="137.96" y1="280.4" x2="137.96" y2="285.59999999999997" stroke="#7a7a7a" stroke-width="1.2"/>
<text transform="translate(137.96,300.80) scale(0.92,1)" class="tk" text-anchor="middle">0.6</text>
<line x1="162.28" y1="280.4" x2="162.28" y2="285.59999999999997" stroke="#7a7a7a" stroke-width="1.2"/>
<text transform="translate(162.28,300.80) scale(0.92,1)" class="tk" text-anchor="middle">0.8</text>
<line x1="186.60" y1="280.4" x2="186.60" y2="285.59999999999997" stroke="#7a7a7a" stroke-width="1.2"/>
<text transform="translate(186.60,300.80) scale(0.92,1)" class="tk" text-anchor="middle">1.0</text>
<text x="66.1" y="184.0" class="lt">d</text>
<path d="M229.5,213.2h2v2h-2zM232.8,209.4h2v2h-2zM233.9,214.1h2v2h-2zM237.2,216.3h2v2h-2zM241.7,215.7h2v2h-2zM245.6,219.9h2v2h-2zM251.7,210.7h2v2h-2zM258.4,216.5h2v2h-2zM259.0,223.9h2v2h-2zM260.4,231.0h2v2h-2zM262.9,216.3h2v2h-2zM269.0,214.6h2v2h-2zM269.0,207.9h2v2h-2zM277.9,212.7h2v2h-2zM286.8,217.2h2v2h-2zM286.8,220.7h2v2h-2zM282.9,222.8h2v2h-2zM277.3,220.7h2v2h-2zM236.7,226.1h2v2h-2zM251.7,219.6h2v2h-2zM272.9,219.6h2v2h-2zM264.0,219.6h2v2h-2zM259.0,258.3h2v2h-2zM286.8,262.4h2v2h-2zM304.0,210.9h2v2h-2zM295.1,215.7h2v2h-2zM312.9,216.5h2v2h-2zM314.1,219.4h2v2h-2zM297.4,220.7h2v2h-2zM302.9,221.9h2v2h-2zM306.8,222.8h2v2h-2zM318.8,222.4h2v2h-2zM325.2,221.3h2v2h-2zM325.7,223.5h2v2h-2zM321.9,225.4h2v2h-2zM311.8,226.1h2v2h-2zM309.0,229.7h2v2h-2zM318.8,231.3h2v2h-2zM336.9,222.8h2v2h-2zM339.1,219.1h2v2h-2zM347.5,220.7h2v2h-2zM347.5,228.0h2v2h-2zM339.1,226.1h2v2h-2zM290.1,223.0h2v2h-2zM295.1,248.7h2v2h-2zM299.0,240.1h2v2h-2zM304.0,239.8h2v2h-2zM306.8,238.5h2v2h-2zM302.9,236.8h2v2h-2zM310.7,252.9h2v2h-2zM312.4,260.7h2v2h-2zM328.9,261.3h2v2h-2zM330.2,268.3h2v2h-2zM338.0,263.0h2v2h-2zM347.8,250.9h2v2h-2zM347.8,273.0h2v2h-2zM347.8,235.3h2v2h-2z" fill="#ff0000"/>
<path d="M229.5,210.9h2v2h-2zM231.7,212.4h2v2h-2zM233.9,213.5h2v2h-2zM242.8,200.5h2v2h-2zM251.7,209.1h2v2h-2zM260.6,207.6h2v2h-2zM269.0,206.8h2v2h-2zM269.0,212.7h2v2h-2zM262.3,216.3h2v2h-2zM272.3,217.4h2v2h-2zM277.3,215.2h2v2h-2zM280.7,216.9h2v2h-2zM282.9,219.1h2v2h-2zM245.6,223.0h2v2h-2zM251.2,219.6h2v2h-2zM235.0,225.8h2v2h-2zM247.8,228.3h2v2h-2zM236.7,231.9h2v2h-2zM244.5,233.6h2v2h-2zM257.9,221.9h2v2h-2zM265.1,221.9h2v2h-2zM270.7,219.6h2v2h-2zM277.3,224.6h2v2h-2zM244.5,234.2h2v2h-2zM260.4,242.9h2v2h-2zM259.0,269.9h2v2h-2zM291.8,218.0h2v2h-2zM291.2,219.9h2v2h-2zM302.9,220.5h2v2h-2zM304.0,223.2h2v2h-2zM309.6,221.9h2v2h-2zM314.6,220.7h2v2h-2zM295.1,226.9h2v2h-2zM300.7,225.4h2v2h-2zM312.9,228.8h2v2h-2zM315.7,229.7h2v2h-2zM319.1,228.0h2v2h-2zM321.9,230.8h2v2h-2zM328.0,233.0h2v2h-2zM325.2,233.6h2v2h-2zM289.6,226.1h2v2h-2zM290.1,228.5h2v2h-2zM296.2,237.9h2v2h-2zM294.6,240.9h2v2h-2zM309.0,237.9h2v2h-2zM314.1,235.3h2v2h-2zM319.1,236.8h2v2h-2zM319.1,244.9h2v2h-2zM321.3,242.9h2v2h-2zM325.2,241.6h2v2h-2zM330.2,243.8h2v2h-2zM336.9,243.8h2v2h-2zM334.7,238.5h2v2h-2zM340.8,239.0h2v2h-2zM347.5,239.6h2v2h-2zM311.8,252.4h2v2h-2zM299.0,257.6h2v2h-2zM302.9,261.8h2v2h-2zM306.8,265.7h2v2h-2zM310.7,261.6h2v2h-2zM325.7,250.9h2v2h-2zM327.4,257.9h2v2h-2zM328.9,256.8h2v2h-2zM336.3,253.2h2v2h-2zM338.0,256.3h2v2h-2zM333.0,269.9h2v2h-2zM330.2,276.9h2v2h-2zM347.5,264.6h2v2h-2zM347.5,270.5h2v2h-2z" fill="#0000ff"/>
<path d="M230.0,211.8h2v2h-2zM232.8,207.9h2v2h-2zM238.4,214.1h2v2h-2zM242.8,202.4h2v2h-2zM251.7,210.5h2v2h-2zM260.6,202.4h2v2h-2zM269.0,207.9h2v2h-2zM262.9,214.6h2v2h-2zM269.0,216.3h2v2h-2zM270.1,226.3h2v2h-2zM277.3,229.1h2v2h-2zM282.3,219.6h2v2h-2zM286.2,224.1h2v2h-2zM286.8,229.4h2v2h-2zM235.0,221.3h2v2h-2zM237.2,217.4h2v2h-2zM245.6,217.4h2v2h-2zM247.3,215.4h2v2h-2zM245.6,224.6h2v2h-2zM251.2,221.3h2v2h-2zM257.9,219.6h2v2h-2zM264.0,224.1h2v2h-2zM265.6,225.0h2v2h-2zM244.5,229.7h2v2h-2zM247.8,230.5h2v2h-2zM236.7,233.0h2v2h-2zM254.0,216.3h2v2h-2zM260.4,246.2h2v2h-2zM259.0,271.9h2v2h-2zM286.8,259.4h2v2h-2zM290.7,219.1h2v2h-2zM297.4,222.1h2v2h-2zM300.7,223.5h2v2h-2zM304.0,226.9h2v2h-2zM309.6,219.6h2v2h-2zM315.2,223.5h2v2h-2zM306.8,229.1h2v2h-2zM319.6,226.3h2v2h-2zM327.4,226.9h2v2h-2zM331.3,226.9h2v2h-2zM335.2,228.0h2v2h-2zM339.1,228.0h2v2h-2zM339.1,232.4h2v2h-2zM343.6,232.1h2v2h-2zM347.5,232.4h2v2h-2zM289.6,228.0h2v2h-2zM302.4,231.3h2v2h-2zM295.1,244.0h2v2h-2zM295.7,239.6h2v2h-2zM302.9,235.7h2v2h-2zM309.0,238.2h2v2h-2zM319.1,238.5h2v2h-2zM319.1,247.6h2v2h-2zM321.3,245.7h2v2h-2zM325.2,244.0h2v2h-2zM330.2,247.9h2v2h-2zM336.9,251.3h2v2h-2zM334.7,239.8h2v2h-2zM340.8,239.8h2v2h-2zM347.5,240.7h2v2h-2zM347.5,248.3h2v2h-2zM311.8,255.2h2v2h-2zM299.0,259.8h2v2h-2zM302.9,263.2h2v2h-2zM306.8,267.2h2v2h-2zM310.7,260.7h2v2h-2zM312.9,262.4h2v2h-2zM325.7,253.5h2v2h-2zM328.9,255.4h2v2h-2zM327.4,263.5h2v2h-2zM338.0,256.8h2v2h-2zM333.0,272.8h2v2h-2zM330.2,278.3h2v2h-2zM347.5,265.7h2v2h-2zM347.5,276.5h2v2h-2z" fill="#00f000"/>
<path d="M230.50,202.14 L230.73,202.63 L230.98,203.12 L231.24,203.61 L231.51,204.09 L231.80,204.58 L232.11,205.07 L232.43,205.56 L232.78,206.04 L233.14,206.53 L233.53,207.02 L233.94,207.51 L234.37,207.99 L234.83,208.48 L235.32,208.97 L235.83,209.46 L236.38,209.94 L236.95,210.43 L237.56,210.92 L238.21,211.41 L238.90,211.90 L239.62,212.38 L240.39,212.87 L241.21,213.36 L242.07,213.85 L242.98,214.33 L243.95,214.82 L244.97,215.31 L246.06,215.80 L247.21,216.28 L248.42,216.77 L249.71,217.26 L251.08,217.75 L252.52,218.23 L254.05,218.72 L255.67,219.21 L257.39,219.70 L259.21,220.18 L261.13,220.67 L263.17,221.16 L265.33,221.65 L267.62,222.14 L270.04,222.62 L272.61,223.11 L275.32,223.60 L278.20,224.09 L281.25,224.57 L284.47,225.06 L287.89,225.55 L291.51,226.04 L295.34,226.52 L299.40,227.01 L303.70,227.50 L308.25,227.99 L313.07,228.47 L318.18,228.96 L323.58,229.45 L329.31,229.94 L335.38,230.42 L341.80,230.91 L348.60,231.40" fill="none" stroke="#ff0000" stroke-width="1.3" stroke-linecap="round"/>
<path d="M230.50,192.83 L230.73,193.61 L230.98,194.38 L231.24,195.16 L231.51,195.93 L231.80,196.71 L232.11,197.48 L232.43,198.25 L232.78,199.03 L233.14,199.80 L233.53,200.58 L233.94,201.35 L234.37,202.13 L234.83,202.90 L235.32,203.68 L235.83,204.45 L236.38,205.22 L236.95,206.00 L237.56,206.77 L238.21,207.55 L238.90,208.32 L239.62,209.10 L240.39,209.87 L241.21,210.65 L242.07,211.42 L242.98,212.19 L243.95,212.97 L244.97,213.74 L246.06,214.52 L247.21,215.29 L248.42,216.07 L249.71,216.84 L251.08,217.62 L252.52,218.39 L254.05,219.16 L255.67,219.94 L257.39,220.71 L259.21,221.49 L261.13,222.26 L263.17,223.04 L265.33,223.81 L267.62,224.59 L270.04,225.36 L272.61,226.13 L275.32,226.91 L278.20,227.68 L281.25,228.46 L284.47,229.23 L287.89,230.01 L291.51,230.78 L295.34,231.56 L299.40,232.33 L303.70,233.10 L308.25,233.88 L313.07,234.65 L318.18,235.43 L323.58,236.20 L329.31,236.98 L335.38,237.75 L341.80,238.53 L348.60,239.30" fill="none" stroke="#00f000" stroke-width="1.3" stroke-linecap="round"/>
<path d="M230.50,194.87 L230.73,195.59 L230.98,196.31 L231.24,197.03 L231.51,197.74 L231.80,198.46 L232.11,199.18 L232.43,199.89 L232.78,200.61 L233.14,201.33 L233.53,202.05 L233.94,202.76 L234.37,203.48 L234.83,204.20 L235.32,204.91 L235.83,205.63 L236.38,206.35 L236.95,207.07 L237.56,207.78 L238.21,208.50 L238.90,209.22 L239.62,209.93 L240.39,210.65 L241.21,211.37 L242.07,212.08 L242.98,212.80 L243.95,213.52 L244.97,214.24 L246.06,214.95 L247.21,215.67 L248.42,216.39 L249.71,217.10 L251.08,217.82 L252.52,218.54 L254.05,219.26 L255.67,219.97 L257.39,220.69 L259.21,221.41 L261.13,222.12 L263.17,222.84 L265.33,223.56 L267.62,224.28 L270.04,224.99 L272.61,225.71 L275.32,226.43 L278.20,227.14 L281.25,227.86 L284.47,228.58 L287.89,229.29 L291.51,230.01 L295.34,230.73 L299.40,231.45 L303.70,232.16 L308.25,232.88 L313.07,233.60 L318.18,234.31 L323.58,235.03 L329.31,235.75 L335.38,236.47 L341.80,237.18 L348.60,237.90" fill="none" stroke="#0000ff" stroke-width="1.3" stroke-linecap="round"/>
<path d="M226.2,172.6H353.2V280.4H226.2Z" fill="none" stroke="#969696" stroke-width="1.8" stroke-linejoin="round"/>
<line x1="220.6" y1="276.22" x2="226.2" y2="276.22" stroke="#6a6a6a" stroke-width="1.2"/>
<text transform="translate(214.80,280.62) scale(0.92,1)" class="tk" text-anchor="end">-2</text>
<line x1="220.6" y1="261.96" x2="226.2" y2="261.96" stroke="#6a6a6a" stroke-width="1.2"/>
<text transform="translate(214.80,266.36) scale(0.92,1)" class="tk" text-anchor="end">-1</text>
<line x1="220.6" y1="247.70" x2="226.2" y2="247.70" stroke="#6a6a6a" stroke-width="1.2"/>
<text transform="translate(214.80,252.10) scale(0.92,1)" class="tk" text-anchor="end">0</text>
<line x1="220.6" y1="233.44" x2="226.2" y2="233.44" stroke="#6a6a6a" stroke-width="1.2"/>
<text transform="translate(214.80,237.84) scale(0.92,1)" class="tk" text-anchor="end">1</text>
<line x1="220.6" y1="219.18" x2="226.2" y2="219.18" stroke="#6a6a6a" stroke-width="1.2"/>
<text transform="translate(214.80,223.58) scale(0.92,1)" class="tk" text-anchor="end">2</text>
<line x1="220.6" y1="204.92" x2="226.2" y2="204.92" stroke="#6a6a6a" stroke-width="1.2"/>
<text transform="translate(214.80,209.32) scale(0.92,1)" class="tk" text-anchor="end">3</text>
<line x1="220.6" y1="190.66" x2="226.2" y2="190.66" stroke="#6a6a6a" stroke-width="1.2"/>
<text transform="translate(214.80,195.06) scale(0.92,1)" class="tk" text-anchor="end">4</text>
<line x1="220.6" y1="176.40" x2="226.2" y2="176.40" stroke="#6a6a6a" stroke-width="1.2"/>
<text transform="translate(214.80,180.80) scale(0.92,1)" class="tk" text-anchor="end">5</text>
<line x1="226.60" y1="280.4" x2="226.60" y2="285.59999999999997" stroke="#7a7a7a" stroke-width="1.2"/>
<text transform="translate(226.60,300.80) scale(0.92,1)" class="tk" text-anchor="middle">0.0</text>
<line x1="251.00" y1="280.4" x2="251.00" y2="285.59999999999997" stroke="#7a7a7a" stroke-width="1.2"/>
<text transform="translate(251.00,300.80) scale(0.92,1)" class="tk" text-anchor="middle">0.2</text>
<line x1="275.40" y1="280.4" x2="275.40" y2="285.59999999999997" stroke="#7a7a7a" stroke-width="1.2"/>
<text transform="translate(275.40,300.80) scale(0.92,1)" class="tk" text-anchor="middle">0.4</text>
<line x1="299.80" y1="280.4" x2="299.80" y2="285.59999999999997" stroke="#7a7a7a" stroke-width="1.2"/>
<text transform="translate(299.80,300.80) scale(0.92,1)" class="tk" text-anchor="middle">0.6</text>
<line x1="324.20" y1="280.4" x2="324.20" y2="285.59999999999997" stroke="#7a7a7a" stroke-width="1.2"/>
<text transform="translate(324.20,300.80) scale(0.92,1)" class="tk" text-anchor="middle">0.8</text>
<line x1="348.60" y1="280.4" x2="348.60" y2="285.59999999999997" stroke="#7a7a7a" stroke-width="1.2"/>
<text transform="translate(348.60,300.80) scale(0.92,1)" class="tk" text-anchor="middle">1.0</text>
<text x="228.4" y="184.0" class="lt">e</text>
<path d="M387.5,204.8h2v2h-2zM389.1,200.9h2v2h-2zM390.8,199.8h2v2h-2zM391.4,203.7h2v2h-2zM395.2,202.8h2v2h-2zM390.2,196.8h2v2h-2zM394.1,197.6h2v2h-2zM396.4,197.0h2v2h-2zM399.7,201.5h2v2h-2zM403.0,198.2h2v2h-2zM403.6,195.0h2v2h-2zM404.7,195.9h2v2h-2zM406.9,196.8h2v2h-2zM409.2,196.5h2v2h-2zM412.0,194.8h2v2h-2zM412.5,199.8h2v2h-2zM415.3,195.9h2v2h-2zM415.9,199.8h2v2h-2zM418.6,194.6h2v2h-2zM419.7,200.4h2v2h-2zM422.5,195.4h2v2h-2zM424.2,199.3h2v2h-2zM427.0,193.7h2v2h-2zM428.1,198.7h2v2h-2zM430.9,200.4h2v2h-2zM432.0,197.6h2v2h-2zM434.2,193.7h2v2h-2zM435.3,195.4h2v2h-2zM439.8,198.2h2v2h-2zM440.9,193.1h2v2h-2zM443.7,197.0h2v2h-2zM427.5,204.8h2v2h-2zM444.0,205.4h2v2h-2zM424.2,212.9h2v2h-2zM438.7,216.2h2v2h-2zM394.1,219.9h2v2h-2zM405.3,231.5h2v2h-2zM418.1,233.9h2v2h-2zM416.6,265.8h2v2h-2zM448.7,200.2h2v2h-2zM452.0,197.0h2v2h-2zM458.1,198.7h2v2h-2zM460.9,197.9h2v2h-2zM464.3,199.8h2v2h-2zM467.6,198.7h2v2h-2zM472.6,198.2h2v2h-2zM464.3,195.9h2v2h-2zM453.1,209.9h2v2h-2zM455.9,210.4h2v2h-2zM470.4,218.2h2v2h-2zM484.9,221.5h2v2h-2zM461.5,223.8h2v2h-2zM449.8,232.8h2v2h-2zM460.9,239.5h2v2h-2zM468.7,240.4h2v2h-2zM482.9,249.0h2v2h-2zM494.3,247.6h2v2h-2zM505.8,228.1h2v2h-2zM505.8,231.2h2v2h-2zM391.0,198.7h2v2h-2zM392.7,199.7h2v2h-2zM394.6,198.6h2v2h-2zM396.5,196.9h2v2h-2zM399.3,196.6h2v2h-2zM401.3,198.2h2v2h-2zM403.6,197.9h2v2h-2zM405.5,197.8h2v2h-2zM407.6,196.1h2v2h-2zM410.3,197.0h2v2h-2zM412.9,197.2h2v2h-2zM415.6,195.3h2v2h-2zM417.9,195.4h2v2h-2zM420.1,196.4h2v2h-2zM422.8,197.1h2v2h-2zM425.0,197.0h2v2h-2zM426.7,195.0h2v2h-2zM429.0,196.3h2v2h-2zM431.8,195.1h2v2h-2zM433.5,194.6h2v2h-2zM436.3,196.2h2v2h-2zM438.8,195.1h2v2h-2zM440.7,194.9h2v2h-2zM442.9,196.0h2v2h-2zM444.9,193.9h2v2h-2zM446.5,193.9h2v2h-2zM448.4,196.1h2v2h-2zM451.2,195.2h2v2h-2zM453.9,195.4h2v2h-2zM455.8,193.4h2v2h-2zM457.3,195.3h2v2h-2zM460.0,195.7h2v2h-2zM462.8,195.6h2v2h-2zM464.6,193.1h2v2h-2zM467.4,195.5h2v2h-2zM469.3,194.3h2v2h-2zM471.2,194.4h2v2h-2zM474.0,192.9h2v2h-2zM475.9,193.3h2v2h-2zM477.4,194.3h2v2h-2zM479.7,194.5h2v2h-2zM481.9,194.1h2v2h-2zM483.9,193.8h2v2h-2zM486.1,194.7h2v2h-2zM488.2,193.2h2v2h-2zM489.9,194.0h2v2h-2zM492.3,192.5h2v2h-2zM494.7,195.1h2v2h-2zM497.4,194.5h2v2h-2zM499.7,193.1h2v2h-2zM501.7,194.6h2v2h-2zM503.3,193.3h2v2h-2zM505.3,192.9h2v2h-2z" fill="#ff0000"/>
<path d="M389.7,190.9h2v2h-2zM391.4,195.4h2v2h-2zM394.1,197.0h2v2h-2zM397.5,198.2h2v2h-2zM401.9,202.1h2v2h-2zM406.4,202.6h2v2h-2zM409.2,204.3h2v2h-2zM412.0,199.8h2v2h-2zM415.3,206.0h2v2h-2zM418.6,208.2h2v2h-2zM418.6,202.6h2v2h-2zM422.0,209.3h2v2h-2zM426.4,203.2h2v2h-2zM428.7,209.3h2v2h-2zM433.7,204.8h2v2h-2zM435.3,212.1h2v2h-2zM440.3,206.5h2v2h-2zM443.7,213.7h2v2h-2zM435.3,219.1h2v2h-2zM443.7,220.2h2v2h-2zM394.1,223.2h2v2h-2zM405.3,234.8h2v2h-2zM418.1,237.2h2v2h-2zM416.2,264.3h2v2h-2zM447.6,208.2h2v2h-2zM448.1,210.4h2v2h-2zM449.2,212.1h2v2h-2zM453.1,218.8h2v2h-2zM453.1,222.1h2v2h-2zM457.6,213.2h2v2h-2zM460.9,219.3h2v2h-2zM461.5,222.1h2v2h-2zM466.5,219.9h2v2h-2zM468.7,213.2h2v2h-2zM470.4,213.7h2v2h-2zM469.3,222.7h2v2h-2zM472.1,221.0h2v2h-2zM476.5,215.4h2v2h-2zM477.6,218.2h2v2h-2zM479.3,224.9h2v2h-2zM480.4,216.0h2v2h-2zM484.9,219.3h2v2h-2zM490.4,221.0h2v2h-2zM496.0,221.5h2v2h-2zM496.6,219.9h2v2h-2zM499.3,220.4h2v2h-2zM505.5,221.0h2v2h-2zM476.5,225.4h2v2h-2zM469.3,228.7h2v2h-2zM460.9,232.8h2v2h-2zM483.7,229.0h2v2h-2zM487.1,227.9h2v2h-2zM488.0,231.5h2v2h-2zM482.9,235.7h2v2h-2zM484.9,237.9h2v2h-2zM491.0,239.5h2v2h-2zM482.9,241.7h2v2h-2zM494.3,242.6h2v2h-2zM496.6,240.9h2v2h-2zM496.0,244.6h2v2h-2zM498.0,248.4h2v2h-2zM505.8,234.8h2v2h-2zM505.8,244.8h2v2h-2zM505.8,247.9h2v2h-2zM505.8,252.8h2v2h-2zM505.8,265.1h2v2h-2zM391.0,191.2h2v2h-2zM394.8,197.5h2v2h-2zM398.1,200.7h2v2h-2zM402.0,202.5h2v2h-2zM405.1,204.5h2v2h-2zM408.9,205.2h2v2h-2zM412.7,207.0h2v2h-2zM416.6,209.9h2v2h-2zM420.1,208.3h2v2h-2zM422.6,210.1h2v2h-2zM425.3,212.1h2v2h-2zM428.3,210.7h2v2h-2zM431.6,213.2h2v2h-2zM436.0,214.8h2v2h-2zM440.3,213.6h2v2h-2zM443.9,216.0h2v2h-2zM448.0,217.4h2v2h-2zM451.9,216.6h2v2h-2zM454.8,217.7h2v2h-2zM457.3,217.9h2v2h-2zM461.5,219.6h2v2h-2zM465.0,219.6h2v2h-2zM468.3,219.7h2v2h-2zM470.8,220.6h2v2h-2zM474.6,221.2h2v2h-2zM478.8,220.4h2v2h-2zM482.0,221.8h2v2h-2zM485.7,220.0h2v2h-2zM488.5,222.9h2v2h-2zM491.1,222.3h2v2h-2zM495.5,223.1h2v2h-2zM498.9,223.2h2v2h-2zM502.3,221.9h2v2h-2z" fill="#0000ff"/>
<path d="M387.5,184.8h2v2h-2zM390.2,188.1h2v2h-2zM393.0,192.6h2v2h-2zM397.5,194.3h2v2h-2zM399.7,197.6h2v2h-2zM404.2,200.4h2v2h-2zM406.9,201.5h2v2h-2zM409.2,202.6h2v2h-2zM412.0,200.9h2v2h-2zM415.3,203.7h2v2h-2zM418.6,204.8h2v2h-2zM419.2,200.9h2v2h-2zM421.4,207.1h2v2h-2zM425.9,206.0h2v2h-2zM426.4,202.4h2v2h-2zM427.5,209.9h2v2h-2zM433.7,203.7h2v2h-2zM437.6,209.3h2v2h-2zM440.3,204.8h2v2h-2zM443.7,210.4h2v2h-2zM424.2,218.8h2v2h-2zM438.7,219.1h2v2h-2zM435.3,222.4h2v2h-2zM443.7,216.5h2v2h-2zM444.0,222.7h2v2h-2zM394.1,223.8h2v2h-2zM405.3,235.9h2v2h-2zM418.1,245.4h2v2h-2zM416.6,267.1h2v2h-2zM447.6,206.5h2v2h-2zM448.7,211.0h2v2h-2zM453.1,208.7h2v2h-2zM454.2,208.2h2v2h-2zM461.5,209.1h2v2h-2zM461.5,213.2h2v2h-2zM464.8,212.6h2v2h-2zM470.4,209.9h2v2h-2zM468.2,212.4h2v2h-2zM472.6,213.2h2v2h-2zM477.1,213.7h2v2h-2zM480.4,215.4h2v2h-2zM466.5,214.9h2v2h-2zM484.9,217.6h2v2h-2zM489.3,218.8h2v2h-2zM492.7,219.3h2v2h-2zM496.0,220.4h2v2h-2zM501.6,218.4h2v2h-2zM505.5,219.3h2v2h-2zM453.1,224.9h2v2h-2zM461.5,225.1h2v2h-2zM469.3,224.7h2v2h-2zM472.1,226.0h2v2h-2zM496.0,226.6h2v2h-2zM449.8,229.4h2v2h-2zM460.9,233.7h2v2h-2zM469.3,229.8h2v2h-2zM479.3,227.6h2v2h-2zM483.7,230.9h2v2h-2zM486.5,229.8h2v2h-2zM482.9,237.6h2v2h-2zM488.0,237.9h2v2h-2zM491.0,243.5h2v2h-2zM483.7,242.8h2v2h-2zM485.4,242.8h2v2h-2zM494.3,244.8h2v2h-2zM496.0,248.7h2v2h-2zM494.3,250.4h2v2h-2zM496.6,255.7h2v2h-2zM498.0,254.8h2v2h-2zM505.8,237.9h2v2h-2zM505.8,251.7h2v2h-2zM505.8,256.5h2v2h-2zM505.8,257.6h2v2h-2zM505.8,274.0h2v2h-2zM496.6,227.2h2v2h-2zM391.0,190.3h2v2h-2zM394.9,195.8h2v2h-2zM398.4,198.9h2v2h-2zM402.2,200.9h2v2h-2zM406.6,202.4h2v2h-2zM410.9,204.5h2v2h-2zM414.5,206.9h2v2h-2zM418.0,206.4h2v2h-2zM421.4,207.0h2v2h-2zM425.0,207.4h2v2h-2zM428.2,209.2h2v2h-2zM431.7,210.5h2v2h-2zM435.0,212.0h2v2h-2zM438.2,212.1h2v2h-2zM440.6,212.7h2v2h-2zM444.6,213.5h2v2h-2zM448.2,214.3h2v2h-2zM451.7,215.1h2v2h-2zM455.5,214.6h2v2h-2zM458.3,215.9h2v2h-2zM461.8,216.5h2v2h-2zM465.2,214.8h2v2h-2zM469.4,216.9h2v2h-2zM473.2,218.1h2v2h-2zM476.7,218.2h2v2h-2zM479.7,216.8h2v2h-2zM482.5,216.9h2v2h-2zM486.5,218.1h2v2h-2zM489.0,217.1h2v2h-2zM492.1,218.3h2v2h-2zM494.5,219.1h2v2h-2zM497.1,219.3h2v2h-2zM501.3,220.9h2v2h-2zM505.1,219.3h2v2h-2z" fill="#00f000"/>
<path d="M387.36,202.35 L387.55,202.22 L387.76,202.09 L387.98,201.96 L388.21,201.83 L388.46,201.70 L388.72,201.57 L389.00,201.44 L389.30,201.31 L389.62,201.18 L389.95,201.06 L390.31,200.93 L390.69,200.80 L391.10,200.67 L391.53,200.54 L391.99,200.41 L392.48,200.28 L393.00,200.15 L393.55,200.02 L394.13,199.89 L394.76,199.76 L395.42,199.64 L396.12,199.51 L396.87,199.38 L397.67,199.25 L398.52,199.12 L399.42,198.99 L400.38,198.86 L401.40,198.73 L402.48,198.60 L403.64,198.47 L404.86,198.34 L406.17,198.22 L407.55,198.09 L409.03,197.96 L410.60,197.83 L412.26,197.70 L414.04,197.57 L415.92,197.44 L417.93,197.31 L420.06,197.18 L422.33,197.05 L424.74,196.92 L427.30,196.79 L430.03,196.67 L432.93,196.54 L436.01,196.41 L439.29,196.28 L442.78,196.15 L446.49,196.02 L450.43,195.89 L454.63,195.76 L459.09,195.63 L463.83,195.50 L468.87,195.37 L474.23,195.25 L479.94,195.12 L486.00,194.99 L492.45,194.86 L499.31,194.73 L506.60,194.60" fill="none" stroke="#ff0000" stroke-width="1.3" stroke-linecap="round"/>
<path d="M387.36,182.27 L387.55,182.91 L387.76,183.56 L387.98,184.20 L388.21,184.85 L388.46,185.49 L388.72,186.14 L389.00,186.79 L389.30,187.43 L389.62,188.08 L389.95,188.72 L390.31,189.37 L390.69,190.01 L391.10,190.66 L391.53,191.30 L391.99,191.95 L392.48,192.60 L393.00,193.24 L393.55,193.89 L394.13,194.53 L394.76,195.18 L395.42,195.82 L396.12,196.47 L396.87,197.11 L397.67,197.76 L398.52,198.41 L399.42,199.05 L400.38,199.70 L401.40,200.34 L402.48,200.99 L403.64,201.63 L404.86,202.28 L406.17,202.92 L407.55,203.57 L409.03,204.22 L410.60,204.86 L412.26,205.51 L414.04,206.15 L415.92,206.80 L417.93,207.44 L420.06,208.09 L422.33,208.73 L424.74,209.38 L427.30,210.03 L430.03,210.67 L432.93,211.32 L436.01,211.96 L439.29,212.61 L442.78,213.25 L446.49,213.90 L450.43,214.54 L454.63,215.19 L459.09,215.84 L463.83,216.48 L468.87,217.13 L474.23,217.77 L479.94,218.42 L486.00,219.06 L492.45,219.71 L499.31,220.35 L506.60,221.00" fill="none" stroke="#00f000" stroke-width="1.3" stroke-linecap="round"/>
<path d="M387.36,182.35 L387.55,183.05 L387.76,183.75 L387.98,184.45 L388.21,185.15 L388.46,185.85 L388.72,186.55 L389.00,187.25 L389.30,187.95 L389.62,188.65 L389.95,189.36 L390.31,190.06 L390.69,190.76 L391.10,191.46 L391.53,192.16 L391.99,192.86 L392.48,193.56 L393.00,194.26 L393.55,194.96 L394.13,195.66 L394.76,196.36 L395.42,197.07 L396.12,197.77 L396.87,198.47 L397.67,199.17 L398.52,199.87 L399.42,200.57 L400.38,201.27 L401.40,201.97 L402.48,202.67 L403.64,203.37 L404.86,204.07 L406.17,204.78 L407.55,205.48 L409.03,206.18 L410.60,206.88 L412.26,207.58 L414.04,208.28 L415.92,208.98 L417.93,209.68 L420.06,210.38 L422.33,211.08 L424.74,211.78 L427.30,212.48 L430.03,213.19 L432.93,213.89 L436.01,214.59 L439.29,215.29 L442.78,215.99 L446.49,216.69 L450.43,217.39 L454.63,218.09 L459.09,218.79 L463.83,219.49 L468.87,220.19 L474.23,220.90 L479.94,221.60 L486.00,222.30 L492.45,223.00 L499.31,223.70 L506.60,224.40" fill="none" stroke="#0000ff" stroke-width="1.3" stroke-linecap="round"/>
<path d="M384.1,172.6H511.5V280.4H384.1Z" fill="none" stroke="#969696" stroke-width="1.8" stroke-linejoin="round"/>
<line x1="378.5" y1="276.22" x2="384.1" y2="276.22" stroke="#6a6a6a" stroke-width="1.2"/>
<text transform="translate(372.70,280.62) scale(0.92,1)" class="tk" text-anchor="end">-2</text>
<line x1="378.5" y1="261.96" x2="384.1" y2="261.96" stroke="#6a6a6a" stroke-width="1.2"/>
<text transform="translate(372.70,266.36) scale(0.92,1)" class="tk" text-anchor="end">-1</text>
<line x1="378.5" y1="247.70" x2="384.1" y2="247.70" stroke="#6a6a6a" stroke-width="1.2"/>
<text transform="translate(372.70,252.10) scale(0.92,1)" class="tk" text-anchor="end">0</text>
<line x1="378.5" y1="233.44" x2="384.1" y2="233.44" stroke="#6a6a6a" stroke-width="1.2"/>
<text transform="translate(372.70,237.84) scale(0.92,1)" class="tk" text-anchor="end">1</text>
<line x1="378.5" y1="219.18" x2="384.1" y2="219.18" stroke="#6a6a6a" stroke-width="1.2"/>
<text transform="translate(372.70,223.58) scale(0.92,1)" class="tk" text-anchor="end">2</text>
<line x1="378.5" y1="204.92" x2="384.1" y2="204.92" stroke="#6a6a6a" stroke-width="1.2"/>
<text transform="translate(372.70,209.32) scale(0.92,1)" class="tk" text-anchor="end">3</text>
<line x1="378.5" y1="190.66" x2="384.1" y2="190.66" stroke="#6a6a6a" stroke-width="1.2"/>
<text transform="translate(372.70,195.06) scale(0.92,1)" class="tk" text-anchor="end">4</text>
<line x1="378.5" y1="176.40" x2="384.1" y2="176.40" stroke="#6a6a6a" stroke-width="1.2"/>
<text transform="translate(372.70,180.80) scale(0.92,1)" class="tk" text-anchor="end">5</text>
<line x1="384.30" y1="280.4" x2="384.30" y2="285.59999999999997" stroke="#7a7a7a" stroke-width="1.2"/>
<text transform="translate(384.30,300.80) scale(0.92,1)" class="tk" text-anchor="middle">0.0</text>
<line x1="408.76" y1="280.4" x2="408.76" y2="285.59999999999997" stroke="#7a7a7a" stroke-width="1.2"/>
<text transform="translate(408.76,300.80) scale(0.92,1)" class="tk" text-anchor="middle">0.2</text>
<line x1="433.22" y1="280.4" x2="433.22" y2="285.59999999999997" stroke="#7a7a7a" stroke-width="1.2"/>
<text transform="translate(433.22,300.80) scale(0.92,1)" class="tk" text-anchor="middle">0.4</text>
<line x1="457.68" y1="280.4" x2="457.68" y2="285.59999999999997" stroke="#7a7a7a" stroke-width="1.2"/>
<text transform="translate(457.68,300.80) scale(0.92,1)" class="tk" text-anchor="middle">0.6</text>
<line x1="482.14" y1="280.4" x2="482.14" y2="285.59999999999997" stroke="#7a7a7a" stroke-width="1.2"/>
<text transform="translate(482.14,300.80) scale(0.92,1)" class="tk" text-anchor="middle">0.8</text>
<line x1="506.60" y1="280.4" x2="506.60" y2="285.59999999999997" stroke="#7a7a7a" stroke-width="1.2"/>
<text transform="translate(506.60,300.80) scale(0.92,1)" class="tk" text-anchor="middle">1.0</text>
<text x="386.3" y="183.8" class="lt">f</text>
<path d="M69.9,361.6h2v2h-2zM70.8,364.1h2v2h-2zM75.8,363.2h2v2h-2zM76.4,372.4h2v2h-2zM80.8,369.9h2v2h-2zM83.6,362.1h2v2h-2zM85.8,370.7h2v2h-2zM88.1,346.5h2v2h-2zM89.2,363.0h2v2h-2zM91.7,345.1h2v2h-2zM95.9,354.9h2v2h-2zM95.9,366.1h2v2h-2zM99.7,353.8h2v2h-2zM101.8,372.4h2v2h-2zM107.0,353.8h2v2h-2zM108.1,369.1h2v2h-2zM110.9,375.8h2v2h-2zM115.3,364.6h2v2h-2zM115.9,351.3h2v2h-2zM119.2,357.4h2v2h-2zM121.5,363.8h2v2h-2zM124.5,352.4h2v2h-2zM124.5,357.6h2v2h-2zM119.8,381.3h2v2h-2zM69.7,378.5h2v2h-2zM72.5,401.6h2v2h-2zM79.7,393.8h2v2h-2zM82.5,397.9h2v2h-2zM84.2,404.9h2v2h-2zM89.7,401.8h2v2h-2zM92.5,400.1h2v2h-2zM98.1,387.9h2v2h-2zM98.1,393.5h2v2h-2zM99.7,386.2h2v2h-2zM100.9,399.0h2v2h-2zM104.2,400.1h2v2h-2zM104.2,386.4h2v2h-2zM106.4,401.6h2v2h-2zM108.1,385.7h2v2h-2zM108.1,391.6h2v2h-2zM112.0,399.0h2v2h-2zM116.5,400.1h2v2h-2zM119.2,404.6h2v2h-2zM120.9,391.8h2v2h-2zM120.9,394.0h2v2h-2zM124.5,395.1h2v2h-2zM124.5,404.6h2v2h-2zM130.1,349.8h2v2h-2zM133.5,357.4h2v2h-2zM142.0,357.9h2v2h-2zM149.8,351.8h2v2h-2zM150.6,358.7h2v2h-2zM150.9,360.2h2v2h-2zM153.2,362.7h2v2h-2zM159.3,365.2h2v2h-2zM163.2,366.9h2v2h-2zM165.4,365.7h2v2h-2zM163.7,350.9h2v2h-2zM164.3,351.3h2v2h-2zM171.5,350.1h2v2h-2zM174.7,352.7h2v2h-2zM178.4,354.9h2v2h-2zM169.3,359.1h2v2h-2zM174.7,361.3h2v2h-2zM177.1,364.3h2v2h-2zM178.2,367.2h2v2h-2zM185.8,350.9h2v2h-2zM185.8,358.5h2v2h-2zM185.5,368.7h2v2h-2zM156.5,370.2h2v2h-2zM173.2,373.5h2v2h-2zM176.6,371.9h2v2h-2zM181.6,374.1h2v2h-2zM142.6,378.8h2v2h-2zM148.2,378.8h2v2h-2zM152.1,378.0h2v2h-2zM157.1,378.3h2v2h-2zM166.5,378.0h2v2h-2zM168.8,377.2h2v2h-2zM159.3,380.8h2v2h-2zM128.1,377.4h2v2h-2zM185.8,380.8h2v2h-2zM129.2,392.0h2v2h-2zM128.7,399.6h2v2h-2zM130.3,398.3h2v2h-2zM133.1,401.3h2v2h-2zM133.7,396.2h2v2h-2zM135.4,395.4h2v2h-2zM137.0,401.6h2v2h-2zM138.7,394.0h2v2h-2zM140.9,397.4h2v2h-2zM144.8,394.6h2v2h-2zM147.0,400.9h2v2h-2zM140.4,388.5h2v2h-2zM153.7,385.3h2v2h-2zM152.1,394.6h2v2h-2zM156.8,400.9h2v2h-2zM161.0,393.8h2v2h-2zM166.5,397.1h2v2h-2zM168.2,402.9h2v2h-2zM172.7,387.6h2v2h-2zM177.1,386.4h2v2h-2zM185.8,401.3h2v2h-2zM159.9,411.3h2v2h-2z" fill="#ff0000"/>
<path d="M70.2,365.2h2v2h-2zM75.8,359.1h2v2h-2zM85.8,371.9h2v2h-2zM88.1,345.4h2v2h-2zM91.7,343.5h2v2h-2zM95.9,353.8h2v2h-2zM98.1,365.4h2v2h-2zM99.7,349.0h2v2h-2zM107.0,366.9h2v2h-2zM115.9,371.9h2v2h-2zM121.5,371.3h2v2h-2zM124.5,366.3h2v2h-2zM71.9,380.2h2v2h-2zM74.7,383.2h2v2h-2zM92.0,372.4h2v2h-2zM115.3,380.8h2v2h-2zM67.5,400.1h2v2h-2zM71.9,397.1h2v2h-2zM73.0,398.5h2v2h-2zM74.7,407.2h2v2h-2zM79.7,392.7h2v2h-2zM80.8,387.3h2v2h-2zM82.5,397.6h2v2h-2zM85.3,397.9h2v2h-2zM84.2,408.3h2v2h-2zM89.7,387.1h2v2h-2zM96.4,404.0h2v2h-2zM95.9,409.4h2v2h-2zM98.4,408.7h2v2h-2zM99.7,386.0h2v2h-2zM101.4,400.7h2v2h-2zM102.0,406.0h2v2h-2zM104.2,384.9h2v2h-2zM104.8,402.4h2v2h-2zM108.1,402.4h2v2h-2zM108.7,394.9h2v2h-2zM110.9,386.2h2v2h-2zM112.0,402.9h2v2h-2zM113.7,391.6h2v2h-2zM116.5,403.2h2v2h-2zM119.8,388.2h2v2h-2zM120.9,396.0h2v2h-2zM124.5,397.9h2v2h-2zM124.5,401.6h2v2h-2zM124.5,405.7h2v2h-2zM74.7,384.2h2v2h-2zM127.9,366.1h2v2h-2zM140.9,357.4h2v2h-2zM142.0,367.4h2v2h-2zM148.7,367.6h2v2h-2zM150.4,366.5h2v2h-2zM153.2,366.1h2v2h-2zM169.1,362.7h2v2h-2zM133.5,373.5h2v2h-2zM144.8,374.1h2v2h-2zM149.8,374.1h2v2h-2zM150.9,375.2h2v2h-2zM174.3,373.9h2v2h-2zM177.7,372.4h2v2h-2zM176.0,377.7h2v2h-2zM179.3,376.9h2v2h-2zM181.8,377.7h2v2h-2zM164.3,379.4h2v2h-2zM185.8,372.4h2v2h-2zM127.9,379.1h2v2h-2zM128.7,403.2h2v2h-2zM129.8,403.2h2v2h-2zM133.1,405.2h2v2h-2zM133.7,400.7h2v2h-2zM137.0,406.0h2v2h-2zM138.7,408.3h2v2h-2zM140.9,401.3h2v2h-2zM142.0,394.9h2v2h-2zM144.8,398.5h2v2h-2zM147.0,404.9h2v2h-2zM142.6,387.1h2v2h-2zM153.7,391.6h2v2h-2zM156.8,395.1h2v2h-2zM157.1,406.0h2v2h-2zM163.2,387.9h2v2h-2zM165.4,388.5h2v2h-2zM166.5,392.9h2v2h-2zM167.3,400.7h2v2h-2zM165.4,405.2h2v2h-2zM168.2,413.2h2v2h-2zM171.5,409.6h2v2h-2zM173.2,394.6h2v2h-2zM174.7,399.8h2v2h-2zM177.1,411.8h2v2h-2zM178.4,410.7h2v2h-2zM159.9,413.8h2v2h-2zM185.5,389.0h2v2h-2zM185.5,395.1h2v2h-2zM185.5,399.4h2v2h-2zM185.5,404.6h2v2h-2zM185.5,407.2h2v2h-2zM159.5,412.4h2v2h-2z" fill="#0000ff"/>
<path d="M69.9,367.4h2v2h-2zM75.8,356.8h2v2h-2zM76.4,366.9h2v2h-2zM83.6,360.9h2v2h-2zM85.8,371.3h2v2h-2zM88.1,344.0h2v2h-2zM91.7,342.0h2v2h-2zM95.9,352.4h2v2h-2zM97.0,369.9h2v2h-2zM99.7,350.7h2v2h-2zM92.0,371.3h2v2h-2zM107.5,376.1h2v2h-2zM114.8,370.7h2v2h-2zM115.9,375.0h2v2h-2zM119.2,357.4h2v2h-2zM124.5,359.8h2v2h-2zM120.9,372.4h2v2h-2zM89.2,376.1h2v2h-2zM99.2,383.2h2v2h-2zM67.5,402.7h2v2h-2zM71.9,398.3h2v2h-2zM73.0,400.1h2v2h-2zM72.5,409.4h2v2h-2zM74.7,386.8h2v2h-2zM78.0,398.5h2v2h-2zM79.7,395.1h2v2h-2zM80.8,386.2h2v2h-2zM82.5,387.9h2v2h-2zM83.0,390.9h2v2h-2zM85.8,399.0h2v2h-2zM84.2,409.1h2v2h-2zM89.7,398.5h2v2h-2zM92.5,402.4h2v2h-2zM95.9,407.6h2v2h-2zM96.4,405.2h2v2h-2zM98.4,410.7h2v2h-2zM98.4,397.1h2v2h-2zM100.9,400.9h2v2h-2zM102.0,404.9h2v2h-2zM104.2,387.3h2v2h-2zM104.4,402.0h2v2h-2zM107.0,388.2h2v2h-2zM108.1,405.7h2v2h-2zM107.8,397.6h2v2h-2zM110.9,386.8h2v2h-2zM112.0,406.0h2v2h-2zM114.0,390.1h2v2h-2zM116.5,404.9h2v2h-2zM119.2,407.6h2v2h-2zM120.3,397.9h2v2h-2zM121.5,394.9h2v2h-2zM124.5,399.4h2v2h-2zM124.5,402.9h2v2h-2zM124.5,411.6h2v2h-2zM119.8,389.3h2v2h-2zM99.2,384.6h2v2h-2zM127.9,362.1h2v2h-2zM130.3,350.9h2v2h-2zM142.0,366.1h2v2h-2zM153.2,354.9h2v2h-2zM169.1,338.5h2v2h-2zM177.7,359.1h2v2h-2zM173.2,368.0h2v2h-2zM181.6,369.6h2v2h-2zM133.5,371.0h2v2h-2zM150.9,371.3h2v2h-2zM144.8,375.8h2v2h-2zM148.2,375.2h2v2h-2zM150.9,376.1h2v2h-2zM165.4,378.3h2v2h-2zM179.3,375.8h2v2h-2zM176.0,379.7h2v2h-2zM185.8,371.3h2v2h-2zM152.1,380.2h2v2h-2zM157.6,380.8h2v2h-2zM127.9,378.3h2v2h-2zM129.2,395.1h2v2h-2zM128.7,406.5h2v2h-2zM130.3,407.4h2v2h-2zM133.1,410.7h2v2h-2zM133.1,406.5h2v2h-2zM134.8,394.2h2v2h-2zM136.5,401.6h2v2h-2zM138.7,396.5h2v2h-2zM140.9,399.8h2v2h-2zM140.9,406.0h2v2h-2zM142.6,386.2h2v2h-2zM144.8,406.8h2v2h-2zM147.0,408.5h2v2h-2zM148.7,405.7h2v2h-2zM153.7,389.8h2v2h-2zM152.1,397.9h2v2h-2zM156.8,396.8h2v2h-2zM157.1,407.4h2v2h-2zM159.3,387.3h2v2h-2zM161.0,397.1h2v2h-2zM163.2,393.8h2v2h-2zM166.5,387.6h2v2h-2zM167.1,400.7h2v2h-2zM164.3,403.5h2v2h-2zM168.4,410.2h2v2h-2zM171.5,410.9h2v2h-2zM174.7,402.9h2v2h-2zM174.7,389.8h2v2h-2zM172.7,395.1h2v2h-2zM177.7,411.6h2v2h-2zM185.5,396.8h2v2h-2zM185.5,402.9h2v2h-2zM185.5,409.1h2v2h-2zM185.5,414.1h2v2h-2zM159.3,413.5h2v2h-2zM160.4,413.2h2v2h-2z" fill="#00f000"/>
<path d="M68.65,379.81 L68.87,379.66 L69.10,379.51 L69.35,379.36 L69.61,379.21 L69.89,379.06 L70.18,378.91 L70.49,378.76 L70.82,378.61 L71.17,378.46 L71.54,378.31 L71.94,378.16 L72.36,378.01 L72.80,377.86 L73.27,377.71 L73.77,377.56 L74.29,377.41 L74.85,377.26 L75.45,377.11 L76.07,376.96 L76.74,376.81 L77.45,376.66 L78.20,376.51 L78.99,376.36 L79.83,376.21 L80.72,376.06 L81.67,375.91 L82.67,375.76 L83.74,375.61 L84.87,375.46 L86.06,375.31 L87.33,375.16 L88.67,375.01 L90.10,374.86 L91.61,374.71 L93.21,374.55 L94.91,374.40 L96.71,374.25 L98.62,374.10 L100.64,373.95 L102.78,373.80 L105.06,373.65 L107.47,373.50 L110.02,373.35 L112.73,373.20 L115.61,373.05 L118.65,372.90 L121.88,372.75 L125.31,372.60 L128.94,372.45 L132.78,372.30 L136.86,372.15 L141.19,372.00 L145.77,371.85 L150.63,371.70 L155.79,371.55 L161.25,371.40 L167.04,371.25 L173.19,371.10 L179.70,370.95 L186.60,370.80" fill="none" stroke="#ff0000" stroke-width="1.3" stroke-linecap="round"/>
<path d="M68.65,377.49 L68.87,377.61 L69.10,377.74 L69.35,377.87 L69.61,378.00 L69.89,378.13 L70.18,378.26 L70.49,378.39 L70.82,378.51 L71.17,378.64 L71.54,378.77 L71.94,378.90 L72.36,379.03 L72.80,379.16 L73.27,379.29 L73.77,379.41 L74.29,379.54 L74.85,379.67 L75.45,379.80 L76.07,379.93 L76.74,380.06 L77.45,380.19 L78.20,380.31 L78.99,380.44 L79.83,380.57 L80.72,380.70 L81.67,380.83 L82.67,380.96 L83.74,381.09 L84.87,381.21 L86.06,381.34 L87.33,381.47 L88.67,381.60 L90.10,381.73 L91.61,381.86 L93.21,381.99 L94.91,382.11 L96.71,382.24 L98.62,382.37 L100.64,382.50 L102.78,382.63 L105.06,382.76 L107.47,382.89 L110.02,383.01 L112.73,383.14 L115.61,383.27 L118.65,383.40 L121.88,383.53 L125.31,383.66 L128.94,383.79 L132.78,383.91 L136.86,384.04 L141.19,384.17 L145.77,384.30 L150.63,384.43 L155.79,384.56 L161.25,384.69 L167.04,384.81 L173.19,384.94 L179.70,385.07 L186.60,385.20" fill="none" stroke="#00f000" stroke-width="1.3" stroke-linecap="round"/>
<path d="M68.65,372.87 L68.87,373.05 L69.10,373.23 L69.35,373.41 L69.61,373.59 L69.89,373.76 L70.18,373.94 L70.49,374.12 L70.82,374.30 L71.17,374.48 L71.54,374.66 L71.94,374.84 L72.36,375.02 L72.80,375.19 L73.27,375.37 L73.77,375.55 L74.29,375.73 L74.85,375.91 L75.45,376.09 L76.07,376.27 L76.74,376.45 L77.45,376.63 L78.20,376.80 L78.99,376.98 L79.83,377.16 L80.72,377.34 L81.67,377.52 L82.67,377.70 L83.74,377.88 L84.87,378.06 L86.06,378.23 L87.33,378.41 L88.67,378.59 L90.10,378.77 L91.61,378.95 L93.21,379.13 L94.91,379.31 L96.71,379.49 L98.62,379.67 L100.64,379.84 L102.78,380.02 L105.06,380.20 L107.47,380.38 L110.02,380.56 L112.73,380.74 L115.61,380.92 L118.65,381.10 L121.88,381.28 L125.31,381.45 L128.94,381.63 L132.78,381.81 L136.86,381.99 L141.19,382.17 L145.77,382.35 L150.63,382.53 L155.79,382.71 L161.25,382.88 L167.04,383.06 L173.19,383.24 L179.70,383.42 L186.60,383.60" fill="none" stroke="#0000ff" stroke-width="1.3" stroke-linecap="round"/>
<path d="M64.4,325.0H192.0V433.4H64.4Z" fill="none" stroke="#969696" stroke-width="1.8" stroke-linejoin="round"/>
<line x1="58.800000000000004" y1="429.48" x2="64.4" y2="429.48" stroke="#6a6a6a" stroke-width="1.2"/>
<text transform="translate(53.00,433.88) scale(0.92,1)" class="tk" text-anchor="end">-3</text>
<line x1="58.800000000000004" y1="412.75" x2="64.4" y2="412.75" stroke="#6a6a6a" stroke-width="1.2"/>
<text transform="translate(53.00,417.15) scale(0.92,1)" class="tk" text-anchor="end">-2</text>
<line x1="58.800000000000004" y1="396.02" x2="64.4" y2="396.02" stroke="#6a6a6a" stroke-width="1.2"/>
<text transform="translate(53.00,400.42) scale(0.92,1)" class="tk" text-anchor="end">-1</text>
<line x1="58.800000000000004" y1="379.29" x2="64.4" y2="379.29" stroke="#6a6a6a" stroke-width="1.2"/>
<text transform="translate(53.00,383.69) scale(0.92,1)" class="tk" text-anchor="end">0</text>
<line x1="58.800000000000004" y1="362.56" x2="64.4" y2="362.56" stroke="#6a6a6a" stroke-width="1.2"/>
<text transform="translate(53.00,366.96) scale(0.92,1)" class="tk" text-anchor="end">1</text>
<line x1="58.800000000000004" y1="345.83" x2="64.4" y2="345.83" stroke="#6a6a6a" stroke-width="1.2"/>
<text transform="translate(53.00,350.23) scale(0.92,1)" class="tk" text-anchor="end">2</text>
<line x1="58.800000000000004" y1="329.10" x2="64.4" y2="329.10" stroke="#6a6a6a" stroke-width="1.2"/>
<text transform="translate(53.00,333.50) scale(0.92,1)" class="tk" text-anchor="end">3</text>
<line x1="65.00" y1="433.4" x2="65.00" y2="438.59999999999997" stroke="#7a7a7a" stroke-width="1.2"/>
<text transform="translate(65.00,453.80) scale(0.92,1)" class="tk" text-anchor="middle">0.0</text>
<line x1="89.32" y1="433.4" x2="89.32" y2="438.59999999999997" stroke="#7a7a7a" stroke-width="1.2"/>
<text transform="translate(89.32,453.80) scale(0.92,1)" class="tk" text-anchor="middle">0.2</text>
<line x1="113.64" y1="433.4" x2="113.64" y2="438.59999999999997" stroke="#7a7a7a" stroke-width="1.2"/>
<text transform="translate(113.64,453.80) scale(0.92,1)" class="tk" text-anchor="middle">0.4</text>
<line x1="137.96" y1="433.4" x2="137.96" y2="438.59999999999997" stroke="#7a7a7a" stroke-width="1.2"/>
<text transform="translate(137.96,453.80) scale(0.92,1)" class="tk" text-anchor="middle">0.6</text>
<line x1="162.28" y1="433.4" x2="162.28" y2="438.59999999999997" stroke="#7a7a7a" stroke-width="1.2"/>
<text transform="translate(162.28,453.80) scale(0.92,1)" class="tk" text-anchor="middle">0.8</text>
<line x1="186.60" y1="433.4" x2="186.60" y2="438.59999999999997" stroke="#7a7a7a" stroke-width="1.2"/>
<text transform="translate(186.60,453.80) scale(0.92,1)" class="tk" text-anchor="middle">1.0</text>
<text x="65.6" y="333.2" class="lt">g</text>
<path d="M233.9,341.8h2v2h-2zM241.7,342.4h2v2h-2zM233.4,348.3h2v2h-2zM237.8,349.6h2v2h-2zM234.5,360.7h2v2h-2zM238.4,358.7h2v2h-2zM244.5,360.2h2v2h-2zM245.0,364.6h2v2h-2zM247.8,363.8h2v2h-2zM242.8,367.4h2v2h-2zM246.2,367.2h2v2h-2zM250.6,347.4h2v2h-2zM254.0,347.9h2v2h-2zM257.3,345.1h2v2h-2zM260.6,347.1h2v2h-2zM262.9,347.9h2v2h-2zM258.4,351.8h2v2h-2zM269.0,352.9h2v2h-2zM269.5,354.6h2v2h-2zM270.1,357.9h2v2h-2zM270.7,345.1h2v2h-2zM274.0,343.5h2v2h-2zM277.9,343.5h2v2h-2zM282.3,343.5h2v2h-2zM286.2,343.5h2v2h-2zM276.8,348.3h2v2h-2zM281.2,347.1h2v2h-2zM282.9,348.3h2v2h-2zM277.9,356.3h2v2h-2zM258.4,367.4h2v2h-2zM260.4,369.4h2v2h-2zM275.7,366.9h2v2h-2zM259.0,378.3h2v2h-2zM240.0,383.0h2v2h-2zM286.8,381.9h2v2h-2zM235.0,400.5h2v2h-2zM266.2,389.8h2v2h-2zM286.8,390.9h2v2h-2zM347.8,340.7h2v2h-2zM347.8,342.4h2v2h-2zM347.8,345.7h2v2h-2zM347.8,349.6h2v2h-2zM290.7,343.5h2v2h-2zM294.6,343.5h2v2h-2zM299.0,343.5h2v2h-2zM302.9,343.5h2v2h-2zM291.8,346.2h2v2h-2zM290.7,347.9h2v2h-2zM295.1,349.0h2v2h-2zM300.1,347.9h2v2h-2zM302.9,346.5h2v2h-2zM304.0,350.5h2v2h-2zM309.6,348.3h2v2h-2zM311.8,345.7h2v2h-2zM312.9,352.4h2v2h-2zM315.7,355.7h2v2h-2zM319.1,347.9h2v2h-2zM325.2,346.2h2v2h-2zM326.9,348.3h2v2h-2zM325.7,350.5h2v2h-2zM329.1,352.4h2v2h-2zM333.0,345.1h2v2h-2zM336.9,345.7h2v2h-2zM339.1,348.3h2v2h-2zM340.2,348.3h2v2h-2zM347.8,344.0h2v2h-2zM347.8,347.9h2v2h-2zM304.6,357.4h2v2h-2zM302.4,361.6h2v2h-2zM314.6,366.9h2v2h-2zM314.1,370.7h2v2h-2zM334.7,359.1h2v2h-2zM338.0,367.4h2v2h-2zM347.8,375.0h2v2h-2zM291.8,379.7h2v2h-2zM297.4,378.0h2v2h-2zM289.6,356.8h2v2h-2zM306.8,387.6h2v2h-2zM302.9,390.9h2v2h-2zM310.7,395.7h2v2h-2zM318.8,396.0h2v2h-2zM321.9,394.9h2v2h-2zM323.0,399.6h2v2h-2zM327.4,395.4h2v2h-2zM330.2,390.9h2v2h-2zM331.1,399.8h2v2h-2zM335.2,392.7h2v2h-2zM339.1,400.1h2v2h-2zM343.6,398.3h2v2h-2zM321.3,413.0h2v2h-2z" fill="#ff0000"/>
<path d="M229.5,345.1h2v2h-2zM233.4,344.0h2v2h-2zM241.7,346.5h2v2h-2zM236.7,363.8h2v2h-2zM239.5,362.7h2v2h-2zM242.8,369.9h2v2h-2zM245.6,369.4h2v2h-2zM246.7,367.4h2v2h-2zM247.8,376.1h2v2h-2zM251.2,366.9h2v2h-2zM251.7,353.8h2v2h-2zM258.4,354.3h2v2h-2zM260.6,355.2h2v2h-2zM253.4,362.4h2v2h-2zM270.1,347.4h2v2h-2zM269.0,353.8h2v2h-2zM270.7,368.7h2v2h-2zM278.5,351.3h2v2h-2zM277.3,354.3h2v2h-2zM282.9,356.3h2v2h-2zM286.8,355.7h2v2h-2zM282.9,373.2h2v2h-2zM232.8,371.3h2v2h-2zM234.5,373.5h2v2h-2zM274.0,348.3h2v2h-2zM237.0,396.8h2v2h-2zM245.9,393.8h2v2h-2zM254.2,385.1h2v2h-2zM258.6,388.2h2v2h-2zM260.4,387.9h2v2h-2zM264.0,385.7h2v2h-2zM266.2,391.6h2v2h-2zM286.8,392.4h2v2h-2zM290.7,352.7h2v2h-2zM302.9,351.6h2v2h-2zM311.8,353.8h2v2h-2zM325.2,354.0h2v2h-2zM336.9,354.3h2v2h-2zM347.8,352.9h2v2h-2zM295.1,362.1h2v2h-2zM300.1,363.2h2v2h-2zM309.6,363.8h2v2h-2zM325.2,363.5h2v2h-2zM328.0,364.6h2v2h-2zM333.0,359.6h2v2h-2zM338.6,360.5h2v2h-2zM340.8,363.2h2v2h-2zM294.6,368.0h2v2h-2zM304.6,369.6h2v2h-2zM312.9,366.1h2v2h-2zM315.2,367.4h2v2h-2zM318.5,373.0h2v2h-2zM334.7,370.7h2v2h-2zM296.2,376.5h2v2h-2zM302.9,377.7h2v2h-2zM314.6,375.4h2v2h-2zM321.3,379.1h2v2h-2zM330.2,379.1h2v2h-2zM336.9,382.1h2v2h-2zM347.8,378.5h2v2h-2zM297.4,382.1h2v2h-2zM347.8,356.8h2v2h-2zM298.8,387.9h2v2h-2zM309.0,389.6h2v2h-2zM302.9,399.6h2v2h-2zM306.8,399.8h2v2h-2zM310.7,399.8h2v2h-2zM318.8,399.8h2v2h-2zM321.9,397.9h2v2h-2zM330.8,400.7h2v2h-2zM330.2,403.5h2v2h-2zM335.2,394.0h2v2h-2zM340.2,398.3h2v2h-2zM327.4,386.4h2v2h-2zM347.5,395.7h2v2h-2z" fill="#0000ff"/>
<path d="M229.5,343.8h2v2h-2zM233.7,342.7h2v2h-2zM241.7,345.1h2v2h-2zM232.2,353.5h2v2h-2zM237.8,351.8h2v2h-2zM247.3,357.9h2v2h-2zM238.9,361.6h2v2h-2zM240.0,367.2h2v2h-2zM243.4,372.4h2v2h-2zM244.5,373.5h2v2h-2zM250.1,350.9h2v2h-2zM258.4,354.6h2v2h-2zM261.7,350.9h2v2h-2zM259.0,368.7h2v2h-2zM261.7,365.7h2v2h-2zM269.5,360.2h2v2h-2zM266.2,355.7h2v2h-2zM271.8,361.3h2v2h-2zM276.2,368.0h2v2h-2zM277.3,365.2h2v2h-2zM281.2,351.6h2v2h-2zM282.9,376.1h2v2h-2zM270.4,373.5h2v2h-2zM233.9,381.7h2v2h-2zM247.8,383.2h2v2h-2zM277.9,358.7h2v2h-2zM237.0,397.9h2v2h-2zM235.0,402.0h2v2h-2zM245.9,396.0h2v2h-2zM247.8,384.6h2v2h-2zM254.2,386.8h2v2h-2zM257.9,389.8h2v2h-2zM264.0,388.2h2v2h-2zM266.2,390.9h2v2h-2zM260.4,395.1h2v2h-2zM286.8,384.6h2v2h-2zM286.8,393.1h2v2h-2zM290.7,354.6h2v2h-2zM295.7,354.6h2v2h-2zM303.5,354.6h2v2h-2zM312.4,355.2h2v2h-2zM325.7,354.9h2v2h-2zM347.8,359.1h2v2h-2zM290.7,363.5h2v2h-2zM300.7,364.3h2v2h-2zM309.6,364.6h2v2h-2zM319.6,364.1h2v2h-2zM306.8,366.9h2v2h-2zM312.9,368.0h2v2h-2zM325.7,367.4h2v2h-2zM328.0,367.4h2v2h-2zM336.3,360.2h2v2h-2zM338.0,362.7h2v2h-2zM333.0,363.2h2v2h-2zM341.3,364.1h2v2h-2zM304.6,372.8h2v2h-2zM315.2,372.4h2v2h-2zM314.1,367.4h2v2h-2zM334.7,371.9h2v2h-2zM319.1,376.9h2v2h-2zM338.0,376.9h2v2h-2zM295.1,375.8h2v2h-2zM296.2,379.7h2v2h-2zM321.3,381.3h2v2h-2zM314.6,382.1h2v2h-2zM330.2,383.6h2v2h-2zM347.8,382.4h2v2h-2zM290.7,356.8h2v2h-2zM291.8,392.4h2v2h-2zM298.8,395.1h2v2h-2zM302.9,393.1h2v2h-2zM309.0,391.2h2v2h-2zM302.9,401.3h2v2h-2zM306.8,400.7h2v2h-2zM310.7,400.7h2v2h-2zM318.8,401.3h2v2h-2zM321.9,398.7h2v2h-2zM323.0,401.8h2v2h-2zM327.4,397.4h2v2h-2zM331.1,402.0h2v2h-2zM330.2,406.8h2v2h-2zM335.2,395.1h2v2h-2zM339.1,401.8h2v2h-2zM340.2,401.3h2v2h-2zM343.6,399.8h2v2h-2zM347.5,398.5h2v2h-2zM347.5,392.7h2v2h-2zM336.7,386.2h2v2h-2zM302.9,384.9h2v2h-2zM297.4,384.2h2v2h-2zM330.2,384.2h2v2h-2z" fill="#00f000"/>
<path d="M230.63,353.12 L230.86,353.13 L231.11,353.14 L231.37,353.15 L231.65,353.16 L231.95,353.17 L232.26,353.19 L232.59,353.20 L232.94,353.21 L233.32,353.22 L233.71,353.23 L234.12,353.24 L234.56,353.25 L235.03,353.27 L235.52,353.28 L236.05,353.29 L236.60,353.30 L237.18,353.31 L237.80,353.32 L238.46,353.33 L239.15,353.35 L239.89,353.36 L240.66,353.37 L241.49,353.38 L242.36,353.39 L243.28,353.40 L244.25,353.41 L245.29,353.42 L246.38,353.44 L247.54,353.45 L248.76,353.46 L250.06,353.47 L251.43,353.48 L252.88,353.49 L254.42,353.50 L256.05,353.52 L257.77,353.53 L259.60,353.54 L261.53,353.55 L263.57,353.56 L265.73,353.57 L268.02,353.58 L270.44,353.60 L273.01,353.61 L275.72,353.62 L278.60,353.63 L281.64,353.64 L284.86,353.65 L288.27,353.66 L291.88,353.67 L295.69,353.69 L299.74,353.70 L304.02,353.71 L308.54,353.72 L313.34,353.73 L318.41,353.74 L323.78,353.75 L329.47,353.77 L335.49,353.78 L341.86,353.79 L348.60,353.80" fill="none" stroke="#ff0000" stroke-width="1.3" stroke-linecap="round"/>
<path d="M230.63,348.32 L230.86,348.72 L231.11,349.12 L231.37,349.52 L231.65,349.91 L231.95,350.31 L232.26,350.71 L232.59,351.11 L232.94,351.51 L233.32,351.90 L233.71,352.30 L234.12,352.70 L234.56,353.10 L235.03,353.49 L235.52,353.89 L236.05,354.29 L236.60,354.69 L237.18,355.09 L237.80,355.48 L238.46,355.88 L239.15,356.28 L239.89,356.68 L240.66,357.08 L241.49,357.47 L242.36,357.87 L243.28,358.27 L244.25,358.67 L245.29,359.07 L246.38,359.46 L247.54,359.86 L248.76,360.26 L250.06,360.66 L251.43,361.06 L252.88,361.45 L254.42,361.85 L256.05,362.25 L257.77,362.65 L259.60,363.05 L261.53,363.44 L263.57,363.84 L265.73,364.24 L268.02,364.64 L270.44,365.04 L273.01,365.43 L275.72,365.83 L278.60,366.23 L281.64,366.63 L284.86,367.03 L288.27,367.42 L291.88,367.82 L295.69,368.22 L299.74,368.62 L304.02,369.02 L308.54,369.41 L313.34,369.81 L318.41,370.21 L323.78,370.61 L329.47,371.01 L335.49,371.40 L341.86,371.80 L348.60,372.20" fill="none" stroke="#00f000" stroke-width="1.3" stroke-linecap="round"/>
<path d="M230.63,351.08 L230.86,351.39 L231.11,351.69 L231.37,352.00 L231.65,352.31 L231.95,352.61 L232.26,352.92 L232.59,353.23 L232.94,353.54 L233.32,353.84 L233.71,354.15 L234.12,354.46 L234.56,354.76 L235.03,355.07 L235.52,355.38 L236.05,355.68 L236.60,355.99 L237.18,356.30 L237.80,356.61 L238.46,356.91 L239.15,357.22 L239.89,357.53 L240.66,357.83 L241.49,358.14 L242.36,358.45 L243.28,358.75 L244.25,359.06 L245.29,359.37 L246.38,359.68 L247.54,359.98 L248.76,360.29 L250.06,360.60 L251.43,360.90 L252.88,361.21 L254.42,361.52 L256.05,361.82 L257.77,362.13 L259.60,362.44 L261.53,362.75 L263.57,363.05 L265.73,363.36 L268.02,363.67 L270.44,363.97 L273.01,364.28 L275.72,364.59 L278.60,364.89 L281.64,365.20 L284.86,365.51 L288.27,365.82 L291.88,366.12 L295.69,366.43 L299.74,366.74 L304.02,367.04 L308.54,367.35 L313.34,367.66 L318.41,367.96 L323.78,368.27 L329.47,368.58 L335.49,368.89 L341.86,369.19 L348.60,369.50" fill="none" stroke="#0000ff" stroke-width="1.3" stroke-linecap="round"/>
<path d="M226.2,325.0H353.2V433.4H226.2Z" fill="none" stroke="#969696" stroke-width="1.8" stroke-linejoin="round"/>
<line x1="220.6" y1="429.48" x2="226.2" y2="429.48" stroke="#6a6a6a" stroke-width="1.2"/>
<text transform="translate(214.80,433.88) scale(0.92,1)" class="tk" text-anchor="end">-3</text>
<line x1="220.6" y1="412.75" x2="226.2" y2="412.75" stroke="#6a6a6a" stroke-width="1.2"/>
<text transform="translate(214.80,417.15) scale(0.92,1)" class="tk" text-anchor="end">-2</text>
<line x1="220.6" y1="396.02" x2="226.2" y2="396.02" stroke="#6a6a6a" stroke-width="1.2"/>
<text transform="translate(214.80,400.42) scale(0.92,1)" class="tk" text-anchor="end">-1</text>
<line x1="220.6" y1="379.29" x2="226.2" y2="379.29" stroke="#6a6a6a" stroke-width="1.2"/>
<text transform="translate(214.80,383.69) scale(0.92,1)" class="tk" text-anchor="end">0</text>
<line x1="220.6" y1="362.56" x2="226.2" y2="362.56" stroke="#6a6a6a" stroke-width="1.2"/>
<text transform="translate(214.80,366.96) scale(0.92,1)" class="tk" text-anchor="end">1</text>
<line x1="220.6" y1="345.83" x2="226.2" y2="345.83" stroke="#6a6a6a" stroke-width="1.2"/>
<text transform="translate(214.80,350.23) scale(0.92,1)" class="tk" text-anchor="end">2</text>
<line x1="220.6" y1="329.10" x2="226.2" y2="329.10" stroke="#6a6a6a" stroke-width="1.2"/>
<text transform="translate(214.80,333.50) scale(0.92,1)" class="tk" text-anchor="end">3</text>
<line x1="226.60" y1="433.4" x2="226.60" y2="438.59999999999997" stroke="#7a7a7a" stroke-width="1.2"/>
<text transform="translate(226.60,453.80) scale(0.92,1)" class="tk" text-anchor="middle">0.0</text>
<line x1="251.00" y1="433.4" x2="251.00" y2="438.59999999999997" stroke="#7a7a7a" stroke-width="1.2"/>
<text transform="translate(251.00,453.80) scale(0.92,1)" class="tk" text-anchor="middle">0.2</text>
<line x1="275.40" y1="433.4" x2="275.40" y2="438.59999999999997" stroke="#7a7a7a" stroke-width="1.2"/>
<text transform="translate(275.40,453.80) scale(0.92,1)" class="tk" text-anchor="middle">0.4</text>
<line x1="299.80" y1="433.4" x2="299.80" y2="438.59999999999997" stroke="#7a7a7a" stroke-width="1.2"/>
<text transform="translate(299.80,453.80) scale(0.92,1)" class="tk" text-anchor="middle">0.6</text>
<line x1="324.20" y1="433.4" x2="324.20" y2="438.59999999999997" stroke="#7a7a7a" stroke-width="1.2"/>
<text transform="translate(324.20,453.80) scale(0.92,1)" class="tk" text-anchor="middle">0.8</text>
<line x1="348.60" y1="433.4" x2="348.60" y2="438.59999999999997" stroke="#7a7a7a" stroke-width="1.2"/>
<text transform="translate(348.60,453.80) scale(0.92,1)" class="tk" text-anchor="middle">1.0</text>
<text x="227.4" y="334.5" class="lt">h</text>
<path d="M395.0,337.6h2v2h-2zM401.9,339.0h2v2h-2zM408.1,338.7h2v2h-2zM411.4,338.5h2v2h-2zM415.9,338.2h2v2h-2zM419.7,338.7h2v2h-2zM394.1,342.0h2v2h-2zM389.7,341.8h2v2h-2zM418.6,343.5h2v2h-2zM411.4,347.9h2v2h-2zM426.4,360.7h2v2h-2zM428.1,374.6h2v2h-2zM399.5,375.2h2v2h-2zM439.2,357.9h2v2h-2zM430.3,349.0h2v2h-2zM409.2,386.8h2v2h-2zM420.9,386.4h2v2h-2zM432.0,392.9h2v2h-2zM435.9,395.7h2v2h-2zM440.0,390.1h2v2h-2zM444.0,391.2h2v2h-2zM464.8,336.4h2v2h-2zM468.7,336.4h2v2h-2zM476.8,336.4h2v2h-2zM481.0,336.4h2v2h-2zM501.6,336.4h2v2h-2zM458.1,342.4h2v2h-2zM472.6,342.4h2v2h-2zM476.8,342.7h2v2h-2zM492.7,342.0h2v2h-2zM496.6,343.5h2v2h-2zM448.7,349.6h2v2h-2zM488.8,348.7h2v2h-2zM467.6,353.8h2v2h-2zM453.1,370.2h2v2h-2zM461.7,385.7h2v2h-2zM452.0,397.1h2v2h-2zM456.5,397.6h2v2h-2zM460.9,396.8h2v2h-2zM505.5,398.3h2v2h-2zM387.0,342.6h2v2h-2zM388.3,342.1h2v2h-2zM389.6,341.7h2v2h-2zM391.8,341.3h2v2h-2zM393.4,341.7h2v2h-2zM394.6,341.5h2v2h-2zM396.6,340.3h2v2h-2zM398.7,339.6h2v2h-2zM400.0,342.1h2v2h-2zM401.8,341.6h2v2h-2zM404.0,341.4h2v2h-2zM405.8,341.1h2v2h-2zM407.7,341.7h2v2h-2zM409.3,340.3h2v2h-2zM410.7,341.3h2v2h-2zM412.8,341.5h2v2h-2zM414.7,339.5h2v2h-2zM416.4,340.0h2v2h-2zM418.4,339.9h2v2h-2zM420.0,340.8h2v2h-2zM422.0,341.0h2v2h-2zM424.2,341.5h2v2h-2zM426.2,341.4h2v2h-2zM427.6,338.7h2v2h-2zM429.7,338.9h2v2h-2zM431.4,339.1h2v2h-2zM432.6,339.4h2v2h-2zM434.6,341.2h2v2h-2zM436.7,338.8h2v2h-2zM438.4,339.3h2v2h-2zM439.8,340.8h2v2h-2zM441.5,340.6h2v2h-2zM443.7,340.6h2v2h-2zM445.4,338.9h2v2h-2zM447.1,339.5h2v2h-2zM448.4,340.2h2v2h-2zM450.0,340.5h2v2h-2zM451.3,338.7h2v2h-2zM452.7,340.0h2v2h-2zM454.9,339.8h2v2h-2zM456.5,339.9h2v2h-2zM458.5,339.2h2v2h-2zM460.3,341.1h2v2h-2zM461.6,339.1h2v2h-2zM463.7,339.1h2v2h-2zM465.0,339.0h2v2h-2zM467.0,339.7h2v2h-2zM469.1,340.8h2v2h-2zM470.5,340.5h2v2h-2zM472.5,339.4h2v2h-2zM474.2,339.1h2v2h-2zM475.6,338.9h2v2h-2zM476.8,339.1h2v2h-2zM478.6,339.3h2v2h-2zM480.2,340.4h2v2h-2zM481.6,339.5h2v2h-2zM483.1,339.1h2v2h-2zM484.5,340.7h2v2h-2zM486.6,338.8h2v2h-2zM488.4,339.5h2v2h-2zM490.5,340.5h2v2h-2zM492.7,339.5h2v2h-2zM494.7,338.6h2v2h-2zM496.1,340.2h2v2h-2zM498.1,338.4h2v2h-2zM499.3,340.3h2v2h-2zM501.4,338.6h2v2h-2zM503.6,339.4h2v2h-2zM505.5,338.2h2v2h-2z" fill="#ff0000"/>
<path d="M387.5,345.1h2v2h-2zM390.2,350.7h2v2h-2zM391.9,353.2h2v2h-2zM394.1,349.0h2v2h-2zM396.1,353.2h2v2h-2zM395.2,342.9h2v2h-2zM400.8,346.8h2v2h-2zM403.6,343.5h2v2h-2zM405.3,348.3h2v2h-2zM405.3,353.2h2v2h-2zM407.5,343.8h2v2h-2zM411.7,344.2h2v2h-2zM411.7,348.5h2v2h-2zM415.9,344.0h2v2h-2zM424.2,344.9h2v2h-2zM402.5,356.5h2v2h-2zM427.0,350.7h2v2h-2zM434.2,350.5h2v2h-2zM440.9,360.5h2v2h-2zM439.2,362.7h2v2h-2zM405.3,367.2h2v2h-2zM403.6,370.2h2v2h-2zM392.5,368.3h2v2h-2zM418.1,369.1h2v2h-2zM408.8,364.6h2v2h-2zM399.5,378.3h2v2h-2zM409.2,382.4h2v2h-2zM416.4,383.6h2v2h-2zM422.0,383.6h2v2h-2zM423.6,380.2h2v2h-2zM428.1,360.2h2v2h-2zM391.0,388.2h2v2h-2zM394.1,402.7h2v2h-2zM415.3,394.0h2v2h-2zM416.4,384.6h2v2h-2zM420.9,385.3h2v2h-2zM444.0,386.8h2v2h-2zM432.0,391.6h2v2h-2zM449.2,351.3h2v2h-2zM453.1,354.0h2v2h-2zM458.1,353.2h2v2h-2zM461.5,351.8h2v2h-2zM464.8,353.2h2v2h-2zM470.4,350.5h2v2h-2zM473.2,352.0h2v2h-2zM477.1,352.9h2v2h-2zM479.3,351.8h2v2h-2zM484.9,353.5h2v2h-2zM487.1,349.8h2v2h-2zM493.2,355.2h2v2h-2zM497.1,353.2h2v2h-2zM501.0,349.0h2v2h-2zM505.5,353.8h2v2h-2zM448.7,360.2h2v2h-2zM453.7,361.6h2v2h-2zM449.8,364.1h2v2h-2zM467.6,360.2h2v2h-2zM472.6,359.6h2v2h-2zM488.2,360.7h2v2h-2zM487.6,364.6h2v2h-2zM494.3,363.2h2v2h-2zM496.6,364.3h2v2h-2zM484.9,369.9h2v2h-2zM460.9,370.2h2v2h-2zM459.8,372.4h2v2h-2zM467.0,371.6h2v2h-2zM472.1,373.5h2v2h-2zM476.8,371.9h2v2h-2zM453.1,379.9h2v2h-2zM454.8,379.1h2v2h-2zM468.7,379.4h2v2h-2zM476.8,382.1h2v2h-2zM497.7,378.3h2v2h-2zM505.5,368.0h2v2h-2zM505.5,373.5h2v2h-2zM490.4,356.8h2v2h-2zM480.4,353.5h2v2h-2zM448.1,394.2h2v2h-2zM464.6,389.8h2v2h-2zM456.1,396.0h2v2h-2zM460.6,396.0h2v2h-2zM505.5,391.6h2v2h-2zM505.5,393.5h2v2h-2zM505.5,395.4h2v2h-2z" fill="#0000ff"/>
<path d="M387.5,338.7h2v2h-2zM387.5,342.7h2v2h-2zM390.8,347.9h2v2h-2zM394.7,350.5h2v2h-2zM397.5,346.0h2v2h-2zM400.3,349.0h2v2h-2zM404.2,347.4h2v2h-2zM406.4,346.5h2v2h-2zM411.4,345.1h2v2h-2zM411.4,354.0h2v2h-2zM416.4,348.5h2v2h-2zM419.2,344.6h2v2h-2zM418.6,348.3h2v2h-2zM424.8,346.5h2v2h-2zM417.5,351.6h2v2h-2zM427.5,348.7h2v2h-2zM432.0,349.6h2v2h-2zM435.3,349.6h2v2h-2zM438.7,350.7h2v2h-2zM440.9,350.9h2v2h-2zM444.0,351.3h2v2h-2zM402.5,354.9h2v2h-2zM391.9,360.2h2v2h-2zM392.5,366.9h2v2h-2zM405.3,371.0h2v2h-2zM408.8,364.1h2v2h-2zM427.0,364.6h2v2h-2zM428.1,371.9h2v2h-2zM409.2,379.9h2v2h-2zM403.6,382.8h2v2h-2zM418.6,382.1h2v2h-2zM424.2,378.5h2v2h-2zM439.8,361.3h2v2h-2zM391.0,389.0h2v2h-2zM394.1,403.5h2v2h-2zM415.3,394.6h2v2h-2zM416.4,387.6h2v2h-2zM421.4,384.6h2v2h-2zM444.0,385.1h2v2h-2zM444.0,389.3h2v2h-2zM432.0,392.4h2v2h-2zM435.9,394.0h2v2h-2zM440.0,389.0h2v2h-2zM447.6,352.4h2v2h-2zM450.3,355.2h2v2h-2zM458.1,350.5h2v2h-2zM460.9,350.7h2v2h-2zM462.0,353.5h2v2h-2zM470.4,349.6h2v2h-2zM469.8,354.0h2v2h-2zM477.6,351.6h2v2h-2zM480.4,351.3h2v2h-2zM483.2,354.6h2v2h-2zM486.5,350.7h2v2h-2zM488.2,352.4h2v2h-2zM493.2,354.0h2v2h-2zM499.3,356.8h2v2h-2zM496.6,345.1h2v2h-2zM472.6,345.1h2v2h-2zM484.9,345.7h2v2h-2zM488.8,345.7h2v2h-2zM492.7,345.7h2v2h-2zM501.0,345.7h2v2h-2zM467.6,360.5h2v2h-2zM473.2,362.4h2v2h-2zM483.7,361.3h2v2h-2zM453.7,362.7h2v2h-2zM449.8,368.0h2v2h-2zM460.9,368.5h2v2h-2zM462.0,365.0h2v2h-2zM492.1,363.8h2v2h-2zM496.0,368.5h2v2h-2zM472.1,370.7h2v2h-2zM487.6,369.6h2v2h-2zM460.4,373.5h2v2h-2zM466.5,376.1h2v2h-2zM476.5,374.1h2v2h-2zM493.8,372.4h2v2h-2zM454.8,376.9h2v2h-2zM496.6,378.5h2v2h-2zM476.8,379.9h2v2h-2zM452.6,383.0h2v2h-2zM462.0,383.0h2v2h-2zM505.5,383.0h2v2h-2zM505.5,375.4h2v2h-2zM505.5,354.3h2v2h-2zM448.1,394.9h2v2h-2zM452.0,395.1h2v2h-2zM456.5,395.1h2v2h-2zM460.9,395.4h2v2h-2zM464.6,392.4h2v2h-2zM468.7,391.6h2v2h-2zM479.3,393.8h2v2h-2zM484.9,387.1h2v2h-2zM498.0,393.1h2v2h-2zM505.5,396.8h2v2h-2zM505.5,399.0h2v2h-2zM399.0,349.7h2v2h-2zM401.9,350.9h2v2h-2zM405.3,350.0h2v2h-2zM408.3,352.0h2v2h-2zM411.7,351.5h2v2h-2zM415.9,352.2h2v2h-2zM419.2,352.9h2v2h-2zM422.3,352.8h2v2h-2zM427.0,354.3h2v2h-2zM431.4,354.1h2v2h-2zM436.3,353.6h2v2h-2zM439.3,355.2h2v2h-2zM444.5,354.9h2v2h-2zM449.4,355.0h2v2h-2zM454.1,354.6h2v2h-2zM457.0,356.3h2v2h-2zM460.7,356.9h2v2h-2zM464.3,355.6h2v2h-2zM468.1,356.6h2v2h-2zM473.1,357.4h2v2h-2zM476.2,357.3h2v2h-2zM480.7,356.8h2v2h-2zM483.6,356.7h2v2h-2zM488.2,356.4h2v2h-2zM493.2,356.5h2v2h-2zM497.3,357.2h2v2h-2zM500.7,357.3h2v2h-2zM504.2,357.6h2v2h-2z" fill="#00f000"/>
<path d="M387.36,342.71 L387.55,342.68 L387.76,342.64 L387.98,342.60 L388.21,342.57 L388.46,342.53 L388.72,342.49 L389.00,342.46 L389.30,342.42 L389.62,342.38 L389.95,342.34 L390.31,342.31 L390.69,342.27 L391.10,342.23 L391.53,342.20 L391.99,342.16 L392.48,342.12 L393.00,342.09 L393.55,342.05 L394.13,342.01 L394.76,341.98 L395.42,341.94 L396.12,341.90 L396.87,341.86 L397.67,341.83 L398.52,341.79 L399.42,341.75 L400.38,341.72 L401.40,341.68 L402.48,341.64 L403.64,341.61 L404.86,341.57 L406.17,341.53 L407.55,341.50 L409.03,341.46 L410.60,341.42 L412.26,341.39 L414.04,341.35 L415.92,341.31 L417.93,341.27 L420.06,341.24 L422.33,341.20 L424.74,341.16 L427.30,341.13 L430.03,341.09 L432.93,341.05 L436.01,341.02 L439.29,340.98 L442.78,340.94 L446.49,340.91 L450.43,340.87 L454.63,340.83 L459.09,340.80 L463.83,340.76 L468.87,340.72 L474.23,340.68 L479.94,340.65 L486.00,340.61 L492.45,340.57 L499.31,340.54 L506.60,340.50" fill="none" stroke="#ff0000" stroke-width="1.3" stroke-linecap="round"/>
<path d="M387.36,344.59 L387.55,344.84 L387.76,345.08 L387.98,345.32 L388.21,345.57 L388.46,345.81 L388.72,346.05 L389.00,346.30 L389.30,346.54 L389.62,346.78 L389.95,347.03 L390.31,347.27 L390.69,347.51 L391.10,347.76 L391.53,348.00 L391.99,348.24 L392.48,348.49 L393.00,348.73 L393.55,348.97 L394.13,349.22 L394.76,349.46 L395.42,349.70 L396.12,349.95 L396.87,350.19 L397.67,350.44 L398.52,350.68 L399.42,350.92 L400.38,351.17 L401.40,351.41 L402.48,351.65 L403.64,351.90 L404.86,352.14 L406.17,352.38 L407.55,352.63 L409.03,352.87 L410.60,353.11 L412.26,353.36 L414.04,353.60 L415.92,353.84 L417.93,354.09 L420.06,354.33 L422.33,354.57 L424.74,354.82 L427.30,355.06 L430.03,355.30 L432.93,355.55 L436.01,355.79 L439.29,356.03 L442.78,356.28 L446.49,356.52 L450.43,356.77 L454.63,357.01 L459.09,357.25 L463.83,357.50 L468.87,357.74 L474.23,357.98 L479.94,358.23 L486.00,358.47 L492.45,358.71 L499.31,358.96 L506.60,359.20" fill="none" stroke="#00f000" stroke-width="1.3" stroke-linecap="round"/>
<path d="M387.36,345.34 L387.55,345.60 L387.76,345.87 L387.98,346.13 L388.21,346.40 L388.46,346.66 L388.72,346.92 L389.00,347.19 L389.30,347.45 L389.62,347.72 L389.95,347.98 L390.31,348.25 L390.69,348.51 L391.10,348.77 L391.53,349.04 L391.99,349.30 L392.48,349.57 L393.00,349.83 L393.55,350.10 L394.13,350.36 L394.76,350.63 L395.42,350.89 L396.12,351.15 L396.87,351.42 L397.67,351.68 L398.52,351.95 L399.42,352.21 L400.38,352.48 L401.40,352.74 L402.48,353.00 L403.64,353.27 L404.86,353.53 L406.17,353.80 L407.55,354.06 L409.03,354.33 L410.60,354.59 L412.26,354.86 L414.04,355.12 L415.92,355.38 L417.93,355.65 L420.06,355.91 L422.33,356.18 L424.74,356.44 L427.30,356.71 L430.03,356.97 L432.93,357.23 L436.01,357.50 L439.29,357.76 L442.78,358.03 L446.49,358.29 L450.43,358.56 L454.63,358.82 L459.09,359.09 L463.83,359.35 L468.87,359.61 L474.23,359.88 L479.94,360.14 L486.00,360.41 L492.45,360.67 L499.31,360.94 L506.60,361.20" fill="none" stroke="#0000ff" stroke-width="1.3" stroke-linecap="round"/>
<path d="M384.1,325.0H511.5V433.4H384.1Z" fill="none" stroke="#969696" stroke-width="1.8" stroke-linejoin="round"/>
<line x1="378.5" y1="429.48" x2="384.1" y2="429.48" stroke="#6a6a6a" stroke-width="1.2"/>
<text transform="translate(372.70,433.88) scale(0.92,1)" class="tk" text-anchor="end">-3</text>
<line x1="378.5" y1="412.75" x2="384.1" y2="412.75" stroke="#6a6a6a" stroke-width="1.2"/>
<text transform="translate(372.70,417.15) scale(0.92,1)" class="tk" text-anchor="end">-2</text>
<line x1="378.5" y1="396.02" x2="384.1" y2="396.02" stroke="#6a6a6a" stroke-width="1.2"/>
<text transform="translate(372.70,400.42) scale(0.92,1)" class="tk" text-anchor="end">-1</text>
<line x1="378.5" y1="379.29" x2="384.1" y2="379.29" stroke="#6a6a6a" stroke-width="1.2"/>
<text transform="translate(372.70,383.69) scale(0.92,1)" class="tk" text-anchor="end">0</text>
<line x1="378.5" y1="362.56" x2="384.1" y2="362.56" stroke="#6a6a6a" stroke-width="1.2"/>
<text transform="translate(372.70,366.96) scale(0.92,1)" class="tk" text-anchor="end">1</text>
<line x1="378.5" y1="345.83" x2="384.1" y2="345.83" stroke="#6a6a6a" stroke-width="1.2"/>
<text transform="translate(372.70,350.23) scale(0.92,1)" class="tk" text-anchor="end">2</text>
<line x1="378.5" y1="329.10" x2="384.1" y2="329.10" stroke="#6a6a6a" stroke-width="1.2"/>
<text transform="translate(372.70,333.50) scale(0.92,1)" class="tk" text-anchor="end">3</text>
<line x1="384.30" y1="433.4" x2="384.30" y2="438.59999999999997" stroke="#7a7a7a" stroke-width="1.2"/>
<text transform="translate(384.30,453.80) scale(0.92,1)" class="tk" text-anchor="middle">0.0</text>
<line x1="408.76" y1="433.4" x2="408.76" y2="438.59999999999997" stroke="#7a7a7a" stroke-width="1.2"/>
<text transform="translate(408.76,453.80) scale(0.92,1)" class="tk" text-anchor="middle">0.2</text>
<line x1="433.22" y1="433.4" x2="433.22" y2="438.59999999999997" stroke="#7a7a7a" stroke-width="1.2"/>
<text transform="translate(433.22,453.80) scale(0.92,1)" class="tk" text-anchor="middle">0.4</text>
<line x1="457.68" y1="433.4" x2="457.68" y2="438.59999999999997" stroke="#7a7a7a" stroke-width="1.2"/>
<text transform="translate(457.68,453.80) scale(0.92,1)" class="tk" text-anchor="middle">0.6</text>
<line x1="482.14" y1="433.4" x2="482.14" y2="438.59999999999997" stroke="#7a7a7a" stroke-width="1.2"/>
<text transform="translate(482.14,453.80) scale(0.92,1)" class="tk" text-anchor="middle">0.8</text>
<line x1="506.60" y1="433.4" x2="506.60" y2="438.59999999999997" stroke="#7a7a7a" stroke-width="1.2"/>
<text transform="translate(506.60,453.80) scale(0.92,1)" class="tk" text-anchor="middle">1.0</text>
<text x="385.4" y="334.5" class="lt">i</text>
<text transform="translate(9.2,81.8) rotate(-90)" class="lb" font-size="11.45" text-anchor="middle" xml:space="preserve">Relative  Channel Current</text>
<text transform="translate(23.8,81.8) rotate(-90)" class="lb" font-size="11.45" text-anchor="middle" xml:space="preserve">(β-Units)</text>
<text transform="translate(9.2,233.8) rotate(-90)" class="lb" font-size="11.45" text-anchor="middle" xml:space="preserve">Relative  Channel Water</text>
<text transform="translate(23.8,233.8) rotate(-90)" class="lb" font-size="11.45" text-anchor="middle" xml:space="preserve">Level (β-Units)</text>
<text transform="translate(9.2,390.7) rotate(-90)" class="lb" font-size="11.45" text-anchor="middle" xml:space="preserve">Relative  Flood Extents</text>
<text transform="translate(23.8,390.7) rotate(-90)" class="lb" font-size="11.45" text-anchor="middle" xml:space="preserve">(β-Units)</text>
<text x="219.3" y="470.8" class="lb" font-size="11.4">Relative Distance Upstream</text>
<polygon points="518.4,93.4 526.6,93.4 529.6,95.6 558.6,95.6 562.4,93.6 571.4,93.6 571.4,98.9 518.4,98.9" fill="#c9703e" stroke="#e0661c" stroke-width="0.6"/><polygon points="518.4,97.2 571.4,97.2 571.4,98.9 518.4,98.9" fill="#b4582a" /><polygon points="526.3,67.2 533.2,67.2 526.4,93.4 518.4,93.4" fill="#78ea20" /><polygon points="533.2,67.2 535.6,67.2 528.8,94.6 526.4,93.4" fill="#fff0c4" /><polygon points="557.8,67.2 559.8,67.2 562.6,93.8 560.2,94.6" fill="#fff0c4" /><polygon points="559.8,67.2 566.8,67.2 571.4,93.8 562.6,93.8" fill="#78ea20" /><polygon points="535.6,69.0 557.6,69.0 560.2,95.6 528.8,95.6" fill="#1c5ff0" /><polygon points="537.6,70.2 555.6,70.2 557.8,95.0 531.0,95.0" fill="#4f90e6" /><polygon points="536.0,69.0 557.4,69.0 556.6,70.6 537.0,70.6" fill="#a8ccf4" /><polygon points="530.0,95.3 558.8,95.3 558.0,97.0 531.6,97.0" fill="#bfe2fa" /><polygon points="540.7,82.0 543.0,84.6 541.7,84.6 541.7,94.2 539.7,94.2 539.7,84.6 538.4000000000001,84.6" fill="#f47020" stroke="#e24c14" stroke-width="0.6" stroke-linejoin="round"/><polygon points="551.0,82.0 553.3,84.6 552.0,84.6 552.0,94.2 550.0,94.2 550.0,84.6 548.7,84.6" fill="#f47020" stroke="#e24c14" stroke-width="0.6" stroke-linejoin="round"/><polygon points="545.5,75.8 549.5,80.0 547.0,80.0 547.0,94.2 544.0,94.2 544.0,80.0 541.5,80.0" fill="#f47020" stroke="#e24c14" stroke-width="0.6" stroke-linejoin="round"/><line x1="534" y1="203.3" x2="558.9" y2="203.3" stroke="#f06a22" stroke-width="1.1"/><line x1="534" y1="208.4" x2="558.9" y2="208.4" stroke="#f06a22" stroke-width="1.1"/><polygon points="519,237.6 527,237.6 531,240.6 558.6,240.6 562.4,237.8 571.4,237.8 571.4,242.6 519,242.6" fill="#c9703e" stroke="#e0661c" stroke-width="0.6"/><polygon points="519,241.0 571.4,241.0 571.4,242.6 519,242.6" fill="#b4582a" /><polygon points="527,211.7 533.6,211.7 527,237.6 519,237.6" fill="#78ea20" /><polygon points="533.6,211.7 534.8,211.7 528.2,238.2 527,237.6" fill="#fff0c4" /><polygon points="559.0,211.7 560.2,211.7 562.4,237.8 561.2,238.4" fill="#fff0c4" /><polygon points="560.2,211.7 566.7,211.7 571.4,237.8 562.4,237.8" fill="#78ea20" /><polygon points="534.6,211.7 559.2,211.7 561.6,240.6 528.0,240.6" fill="#1c5ff0" /><polygon points="538.4,213.6 555.8,213.6 557.8,239.4 532.6,239.4" fill="#4688e6" /><polygon points="535.0,211.7 558.8,211.7 557.6,213.4 536.2,213.4" fill="#8fc0f6" /><polygon points="530.4,239.4 559.6,239.4 559.0,241.0 531.6,241.0" fill="#bfe2fa" /><polygon points="546.3,222.4 553.9,230.8 549.9,230.8 549.9,240.6 542.6999999999999,240.6 542.6999999999999,230.8 538.6999999999999,230.8" fill="#f47020" stroke="#e24c14" stroke-width="0.6" stroke-linejoin="round"/><polygon points="517.4,402 570.3,402 570.3,407.3 517.4,407.3" fill="#c9703e" stroke="#e0661c" stroke-width="0.6"/><polygon points="517.4,405.6 570.3,405.6 570.3,407.3 517.4,407.3" fill="#b4582a" /><polygon points="517.4,395.6 525.5,395.6 526.5,402 517.4,402" fill="#12c83a" /><polygon points="525.5,395.6 528.4,395.6 529.0,402 526.5,402" fill="#fff0c4" /><polygon points="560.7,395.6 562.1,395.6 562.1,402 560.0,402" fill="#fff0c4" /><polygon points="562.1,395.6 570.3,395.6 570.3,402 562.1,402" fill="#12c83a" /><polygon points="523.6,370.6 566.0,370.6 571.3,395.6 517.4,395.6" fill="#aeeef2" stroke="#f08ab8" stroke-width="0.6"/><polygon points="531.6,370.8 534.4,370.8 529.4,403.5 527.2,402" fill="#e0f6f0" /><polygon points="555.4,370.8 557.4,370.8 560.8,402 558.8,403.5" fill="#e0f6f0" /><polygon points="534.2,371.6 555.6,371.6 558.8,404.2 528.6,404.2" fill="#2a6ef0" /><polygon points="536.4,372.8 553.4,372.8 556.2,403.0 531.4,403.0" fill="#4c92ea" /><polygon points="535.0,370.8 555.0,370.8 554.4,372.6 535.6,372.6" fill="#a8dcf6" /><line x1="517.4" y1="395.6" x2="571.3" y2="395.6" stroke="#c060c0" stroke-width="0.7"/><line x1="528.8" y1="402.2" x2="559.0" y2="402.2" stroke="#9050c8" stroke-width="0.7"/><polygon points="529.6,403.2 558.6,403.2 558.2,404.8 530.2,404.8" fill="#bfe2fa" /><polygon points="545.4,370.7 551.1,376.4 548.0,376.4 548.0,381.4 542.4,381.4 542.4,376.4 539.7,376.4" fill="#f47020" stroke="#e0400c" stroke-width="0.6" stroke-linejoin="round"/><polygon points="545.4,396.1 551.1,390.1 548.0,390.1 548.0,384.7 542.4,384.7 542.4,390.1 539.5,390.1" fill="#f47020" stroke="#e0400c" stroke-width="0.6" stroke-linejoin="round"/><polygon points="523.1,381.4 529.8,376.0 529.8,379.4 534.6,379.4 534.6,383.6 529.8,383.6 529.8,387.2" fill="#f47020" stroke="#e0400c" stroke-width="0.6" stroke-linejoin="round"/><polygon points="565.6,381.4 559.2,376.0 559.2,379.4 554.4,379.4 554.4,383.6 559.2,383.6 559.2,387.2" fill="#f47020" stroke="#e0400c" stroke-width="0.6" stroke-linejoin="round"/>
</svg>
</body></html>
